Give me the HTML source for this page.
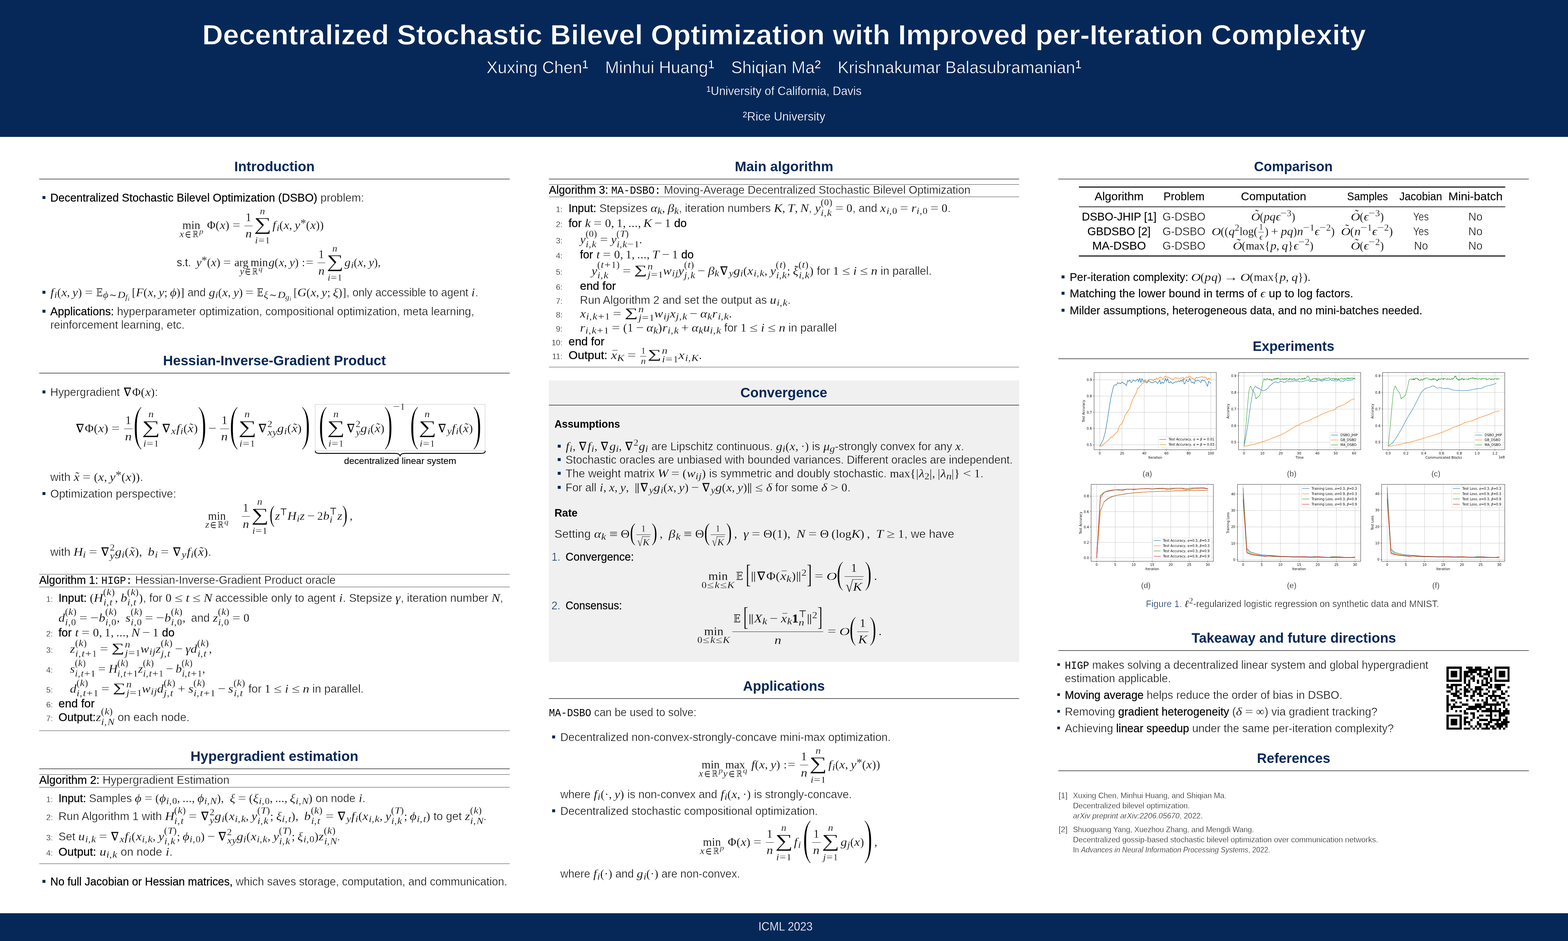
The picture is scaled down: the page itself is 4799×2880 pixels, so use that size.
<!DOCTYPE html>
<html lang="en"><head><meta charset="utf-8"><title>Decentralized Stochastic Bilevel Optimization with Improved per-Iteration Complexity</title>
<style>
html,body{margin:0;padding:0;background:#fff}
h1,h2{margin:0;padding:0;font-weight:normal;font-size:inherit}
#pg{--bg:#fff;position:relative;width:4799px;height:2880px;overflow:hidden;background:#fff;font-family:"Liberation Sans",sans-serif;color:#000}
.ab{position:absolute}
.ln{position:absolute;white-space:nowrap;transform-origin:0 0;line-height:1.2}
.t{font-size:35px;color:#0a0a0a;-webkit-text-stroke:0.65px var(--bg)}
.t b{font-weight:normal;color:#000;-webkit-text-stroke:.32px #000}
.t.bd{color:#000;-webkit-text-stroke:.15px #000}
.hd{font-weight:bold;color:#062858;font-size:43px}
.rl{position:absolute;height:0;border-top:1.6px solid #333}
.bu{position:absolute;width:9px;height:9px;background:#062858}
.tt{font-family:"Liberation Mono",monospace;font-size:.93em;-webkit-text-stroke:0;color:#000}
em{font-style:italic}
/* math */
.m{font-family:"Liberation Serif","DejaVu Math TeX Gyre","DejaVu Serif",serif;font-style:normal;font-weight:normal;color:#000;-webkit-text-stroke:.3px var(--bg);letter-spacing:0.02em;font-size:1.045em}
.m i{font-style:italic;letter-spacing:0;display:inline-block;line-height:0;transform:scaleX(1.1);margin:0 .03em}
.m b{font-weight:bold}
.dj{font-family:"DejaVu Math TeX Gyre","DejaVu Serif",serif}
.m .bb,.m .el{display:inline-block;line-height:0;transform:scaleX(.82);margin:0 -.075em}
.m .bb{font-size:.92em}
.m .cal{font-size:.95em}
.rel{display:inline-block;line-height:0;transform:scaleX(1.25);margin:0 .31em}
.rels{margin:0 .05em}
.bin{display:inline-block;line-height:0;transform:scaleX(1.2);margin:0 .25em}
.ts{display:inline-block;width:.2em}
.ms{display:inline-block;width:.22em}
.ks{display:inline-block;width:.28em}
.ns{display:inline-block;width:0;margin-left:-.17em}
.qd{display:inline-block;width:1em}
.sp,.sb{display:inline-block;line-height:0;font-size:.82em}
.sp{vertical-align:.44em}
.sb{vertical-align:-.2em}
.sp .sp,.sb .sb,.sp .sb,.sb .sp,.ss .sb,.ss .sp,.ld .sp,.ld .sb,.lu .sp{font-size:.8em}
.ss{display:inline-grid;justify-items:start;align-items:baseline;line-height:0;font-size:.82em}
.ss>span{grid-row:1;grid-column:1;position:relative}
.ss>span:first-child{top:-.53em}
.ss.hi>span:first-child{top:-.67em}
.ss.hi>span:last-child{top:.39em}
.ss>span:last-child{top:.33em}
.lm{display:inline-grid;justify-items:center;align-items:baseline;line-height:0;margin:0 .06em}
.lm>span{grid-row:1;grid-column:1;position:relative}
.lu,.ld{font-size:.8em}
.fn{letter-spacing:0}
.bigsum{display:inline-block;font-size:1.53em;letter-spacing:0;transform:translateY(.05em) scaleX(1.4);margin:0 .1em;-webkit-text-stroke:.5px var(--bg)}
.lm .lu{top:-1.55em}
.lm .ld{top:1.5em}
.lm.mn .ld{top:.85em}
.sum{display:inline-block;line-height:0;font-size:1.02em;transform:translateY(-.08em) scaleX(1.5);margin:0 .22em 0 .19em;letter-spacing:0;-webkit-text-stroke:0}
.fr{display:inline-grid;justify-items:center;align-items:baseline;line-height:0;margin:0 .1em;position:relative}
.fr>span{grid-row:1;grid-column:1;position:relative;padding:0 .08em}
.fr>.n{top:-.68em}
.fr>.d{top:.69em}
.fr::after{content:"";grid-row:1;grid-column:1;justify-self:stretch;height:0;border-top:.045em solid #000;position:relative;top:-.27em}
.fr.tf{font-size:.72em;vertical-align:.06em}
.fr.tf>.n{top:-.58em}
.fr.tf>.d{top:.62em}
.fr.tf.dq{font-size:.78em}
.fr.tf.dq>.n{top:-.62em}
.fr.tf.dq>.d{top:.85em}
.fr.dq>.d{top:.9em}
.sq{display:inline-block;line-height:0;position:relative}
.rad{display:inline-block;line-height:0;transform:translateY(.09em) scale(1.1,1.33);transform-origin:50% .3375em;letter-spacing:0;margin:0 0 0 .03em}
.ra{position:relative;display:inline-block;line-height:0;padding:0 .03em}
.ra::before{content:"";position:absolute;left:-.03em;right:0;top:-.63em;border-top:.05em solid #000}
.ac{position:relative;display:inline-block;line-height:0}
.ac .a{position:absolute;left:0;right:0;text-align:center;line-height:0;letter-spacing:0;font-style:normal}
.ac.tilde .a{top:-.06em;left:.12em}
.ac.bar .a{top:-.02em;left:.1em;transform:scaleX(.8)}
.dl{display:inline-block;line-height:0;letter-spacing:0}
.tx{font-family:"Liberation Sans",sans-serif;font-size:.957em;letter-spacing:0}
.ast{font-size:1.2em;position:relative;top:.2em;letter-spacing:0}
.dl{transform-origin:50% .11em;position:relative;top:-.03em}
.lm.mn .ld{top:.85em}
.ti{font-weight:bold;color:#fff;font-size:85.5px;-webkit-text-stroke:1.2px #062858}
.au{color:#fff;font-size:52.5px;-webkit-text-stroke:1px #062858}
.au sup,.in sup{font-size:.68em;vertical-align:.42em;line-height:0;-webkit-text-stroke:0}
.in{color:#fff;font-size:36px;-webkit-text-stroke:.5px #062858}
.ft{color:#fff;font-size:36px;-webkit-text-stroke:.5px #062858}
.nm{font-size:24.2px;-webkit-text-stroke-width:.45px}
.sp .rel,.sb .rel,.ss .rel,.lu .rel,.ld .rel,.sp .rels,.sb .rels,.ss .rels,.ld .rels{margin:0 .1em}
.sp .bin,.sb .bin,.ss .bin,.lu .bin,.ld .bin{margin:0 .09em}
.sp .ts,.sb .ts,.ss .ts,.ld .ts{width:.04em}
.g{--bg:#f0f0f0}
.sh{font-weight:bold;color:#000;-webkit-text-stroke:0;font-size:33px}
.en{color:#062858}
.cp{font-size:23.5px;-webkit-text-stroke-width:.45px}
.cap{font-size:29px}
.cap .fg{color:#062858}
.rf{font-size:24.2px;-webkit-text-stroke-width:.55px}
.fr.bf>.n{top:-1.05em}
.fr.bf>.d{top:.75em}
.dl.th{-webkit-text-stroke:.8px var(--bg)}
.nb{margin:0 -.04em 0 -.03em;font-size:.97em;-webkit-text-stroke:.25px #000}
.dl.tb{-webkit-text-stroke:.5px var(--bg)}
.ac.tall .a{top:-.2em;left:.22em;font-size:1.05em}
.un{display:inline-block;line-height:0;transform:scaleX(1.3);margin:0 .07em 0 .05em}
.m i.cal{transform:scaleX(1.22);margin:0 .06em 0 .05em}
.lm.sm{margin:0 .17em 0 .06em}
</style></head><body>
<div id="pg">
<header>
<div class="ab" style="left:0;top:0;width:4799px;height:419px;background:#062858"></div>
<h1 class="ln ti" style="left:619.0px;top:55.5px;transform:scaleX(1.0282);">Decentralized Stochastic Bilevel Optimization with Improved per-Iteration Complexity</h1>
<div class="ln au" style="left:1489.0px;top:174.0px;transform:scaleX(0.9732);">Xuxing Chen<sup>1</sup>&emsp;Minhui Huang<sup>1</sup>&emsp;Shiqian Ma<sup>2</sup>&emsp;Krishnakumar Balasubramanian<sup>1</sup></div>
<div class="ln in" style="left:2162.0px;top:257.0px;transform:scaleX(0.9819);"><sup>1</sup>University of California, Davis</div>
<div class="ln in" style="left:2273.0px;top:335.0px;transform:scaleX(0.9974);"><sup>2</sup>Rice University</div>
</header>
<main>
<section aria-label="Introduction">
<h2 class="ln hd" style="left:717.0px;top:483.5px;transform:scaleX(0.9809);">Introduction</h2>
<div class="rl" style="left:120px;top:546.5px;width:1440px;border-top-width:2px;border-color:#444"></div>
<div class="bu" style="left:130px;top:600px;width:9px;height:9px"></div>
<div class="ln t" style="left:153.8px;top:584.3px;transform:scaleX(0.9794);"><b>Decentralized Stochastic Bilevel Optimization (DSBO)</b> problem:</div>
<div class="ln t" style="left:546.7px;top:667.4px;transform:scaleX(0.9582);"><span class="m"><span class="lm mn"><span class="lb"><span class="fn">min</span></span><span class="ld"><i>x</i><span class="rels"><span class="dj el">∈</span></span><span class="dj bb">ℝ</span><span class="sp"><i>p</i></span></span></span><span class="ks"></span>Φ(<i>x</i>)<span class="rel">=</span><span class="fr"><span class="n">1</span><span class="d"><i>n</i></span></span><span class="lm sm"><span class="lu"><i>n</i></span><span class="lb"><span class="bigsum">∑</span></span><span class="ld"><i>i</i><span class="rel">=</span>1</span></span><i>f</i><span class="sb"><i>i</i></span>(<i>x</i>,<span class="ts"></span><i>y</i><span class="sp"><span class="ast">*</span></span>(<i>x</i>))</span></div>
<div class="ln t" style="left:540.9px;top:781.3px;transform:scaleX(0.9261);"><span class="m"><span class="tx lt">s.t. </span><span class="ts"></span><i>y</i><span class="sp"><span class="ast">*</span></span>(<i>x</i>)<span class="rel">=</span><span class="lm mn"><span class="lb"><span class="fn">arg<span class="ts"></span>min</span></span><span class="ld"><i>y</i><span class="rels"><span class="dj el">∈</span></span><span class="dj bb">ℝ</span><span class="sp"><i>q</i></span></span></span><i>g</i>(<i>x</i>,<span class="ts"></span><i>y</i>)<span class="ks"></span>:<span style="margin-left:-0.20em"></span><span class="rel">=</span><span class="fr"><span class="n">1</span><span class="d"><i>n</i></span></span><span class="lm sm"><span class="lu"><i>n</i></span><span class="lb"><span class="bigsum">∑</span></span><span class="ld"><i>i</i><span class="rel">=</span>1</span></span><i>g</i><span class="sb"><i>i</i></span>(<i>x</i>,<span class="ts"></span><i>y</i>),<span class="ts"></span></span></div>
<div class="bu" style="left:130px;top:889.5px;width:9px;height:9px"></div>
<div class="ln t" style="left:153.8px;top:872.5px;transform:scaleX(0.9494);"><span class="m"><i>f</i><span class="sb"><i>i</i></span>(<i>x</i>,<span class="ts"></span><i>y</i>)<span class="rel">=</span><span class="dj bb">𝔼</span><span class="sb"><i>ϕ</i><span class="rels"><span class="dj">∼</span></span><i class="cal">D</i><span class="sb"><i>f</i><span class="sb"><i>i</i></span></span></span><span class="ts"></span>[<i>F</i>(<i>x</i>,<span class="ts"></span><i>y</i>;<span class="ts"></span><i>ϕ</i>)]</span> and <span class="m"><i>g</i><span class="sb"><i>i</i></span>(<i>x</i>,<span class="ts"></span><i>y</i>)<span class="rel">=</span><span class="dj bb">𝔼</span><span class="sb"><i>ξ</i><span class="rels"><span class="dj">∼</span></span><i class="cal">D</i><span class="sb"><i>g</i><span class="sb"><i>i</i></span></span></span><span class="ts"></span>[<i>G</i>(<i>x</i>,<span class="ts"></span><i>y</i>;<span class="ts"></span><i>ξ</i>)]</span>, only accessible to agent <span class="m"><i>i</i></span>.</div>
<div class="bu" style="left:130px;top:947.8px;width:9px;height:9px"></div>
<div class="ln t" style="left:153.8px;top:931.8px;transform:scaleX(0.9806);"><b>Applications:</b> hyperparameter optimization, compositional optimization, meta learning,</div>
<div class="ln t" style="left:153.8px;top:973.2px;transform:scaleX(0.9691);">reinforcement learning, etc.</div>
</section>
<section aria-label="Hessian-Inverse-Gradient Product">
<h2 class="ln hd" style="left:499.0px;top:1077.6px;transform:scaleX(0.9808);">Hessian-Inverse-Gradient Product</h2>
<div class="rl" style="left:120px;top:1140.6px;width:1440px;border-top-width:2px;border-color:#444"></div>
<div class="bu" style="left:130px;top:1194.5px;width:9px;height:9px"></div>
<div class="ln t" style="left:153.8px;top:1177.5px;transform:scaleX(0.9675);">Hypergradient <span class="m"><span class="dj nb">∇</span>Φ(<i>x</i>)</span>:</div>
<div class="ln t" style="left:229.7px;top:1288.7px;transform:scaleX(1.0040);"><span class="m"><span class="dj nb">∇</span>Φ(<i>x</i>)<span class="rel">=</span><span class="fr"><span class="n">1</span><span class="d"><i>n</i></span></span><span class="dl th" style="transform:scale(2.302,4.100);margin:0 0.170em">(</span><span class="lm sm"><span class="lu"><i>n</i></span><span class="lb"><span class="bigsum">∑</span></span><span class="ld"><i>i</i><span class="rel">=</span>1</span></span><span class="dj nb">∇</span><span class="sb"><i>x</i></span><i>f</i><span class="sb"><i>i</i></span>(<span class="ac tilde"><i>x</i><span class="a">˜</span></span>)<span class="dl th" style="transform:scale(2.302,4.100);margin:0 0.170em">)</span><span class="bin">−</span><span class="fr"><span class="n">1</span><span class="d"><i>n</i></span></span><span class="dl th" style="transform:scale(2.302,4.100);margin:0 0.170em">(</span><span class="lm sm"><span class="lu"><i>n</i></span><span class="lb"><span class="bigsum">∑</span></span><span class="ld"><i>i</i><span class="rel">=</span>1</span></span><span class="dj nb">∇</span><span class="ss"><span>2</span><span><i>x</i><i>y</i></span></span><i>g</i><span class="sb"><i>i</i></span>(<span class="ac tilde"><i>x</i><span class="a">˜</span></span>)<span class="dl th" style="transform:scale(2.302,4.100);margin:0 0.170em">)</span></span></div>
<div class="ab" style="left:964px;top:1237px;width:521px;height:143px;border:1px solid #bbb;box-sizing:border-box"></div>
<div class="ln t" style="left:977.0px;top:1243.7px;transform:scaleX(0.9798);"><span class="m"><span class="dl th" style="transform:scale(2.302,4.100);margin:0 0.170em">(</span><span class="lm sm"><span class="lu"><i>n</i></span><span class="lb"><span class="bigsum">∑</span></span><span class="ld"><i>i</i><span class="rel">=</span>1</span></span><span class="dj nb">∇</span><span class="ss"><span>2</span><span><i>y</i></span></span><i>g</i><span class="sb"><i>i</i></span>(<span class="ac tilde"><i>x</i><span class="a">˜</span></span>)<span class="dl th" style="transform:scale(2.302,4.100);margin:0 0.170em">)</span><span style="display:inline-block;width:0.08em"></span><span class="sp" style="vertical-align:2.3em"><span class="un">−</span>1</span><span style="display:inline-block;width:0.45em"></span><span class="dl th" style="transform:scale(2.302,4.100);margin:0 0.170em">(</span><span class="lm sm"><span class="lu"><i>n</i></span><span class="lb"><span class="bigsum">∑</span></span><span class="ld"><i>i</i><span class="rel">=</span>1</span></span><span class="dj nb">∇</span><span class="sb"><i>y</i></span><i>f</i><span class="sb"><i>i</i></span>(<span class="ac tilde"><i>x</i><span class="a">˜</span></span>)<span class="dl th" style="transform:scale(2.302,4.100);margin:0 0.170em">)</span></span></div>
<svg class="ab" style="left:964px;top:1379px" width="522" height="20" viewBox="0 0 522 20"><path d="M0.5 0.5 C1 7 5 8.6 14 8.6 L245 8.6 C254 8.6 259 10.5 260.5 17 C262 10.5 267 8.6 276 8.6 L508 8.6 C517 8.6 521 7 521.5 0.5" fill="none" stroke="#000" stroke-width="2.6" stroke-linejoin="round"/></svg>
<div class="ln t bd" style="left:1052.7px;top:1394.4px;transform:scaleX(1.0273);font-size:27.6px;">decentralized linear system</div>
<div class="ln t" style="left:153.8px;top:1438.2px;transform:scaleX(0.9928);">with <span class="m"><span class="ac tilde"><i>x</i><span class="a">˜</span></span><span class="rel">=</span>(<i>x</i>,<span class="ts"></span><i>y</i><span class="sp"><span class="ast">*</span></span>(<i>x</i>))</span>.</div>
<div class="bu" style="left:130px;top:1505.7px;width:9px;height:9px"></div>
<div class="ln t" style="left:153.8px;top:1489.7px;transform:scaleX(0.9803);">Optimization perspective:</div>
<div class="ln t" style="left:626.3px;top:1556.6px;transform:scaleX(0.9578);"><span class="m"><span class="lm mn"><span class="lb"><span class="fn">min</span></span><span class="ld"><i>z</i><span class="rels"><span class="dj el">∈</span></span><span class="dj bb">ℝ</span><span class="sp"><i>q</i></span></span></span><span class="qd"></span><span class="fr"><span class="n">1</span><span class="d"><i>n</i></span></span><span class="lm sm"><span class="lu"><i>n</i></span><span class="lb"><span class="bigsum">∑</span></span><span class="ld"><i>i</i><span class="rel">=</span>1</span></span><span class="dl tb" style="transform:scale(1.420,2.000);margin:0 0.055em">(</span><i>z</i><span class="sp"><span class="dj">⊤</span></span><i>H</i><span class="sb"><i>i</i></span><i>z</i><span class="bin">−</span>2<i>b</i><span class="ss"><span><span class="dj">⊤</span></span><span><i>i</i></span></span><i>z</i><span class="dl tb" style="transform:scale(1.420,2.000);margin:0 0.055em">)</span><span class="ts"></span>,<span class="ts"></span></span></div>
<div class="ln t" style="left:153.8px;top:1667.2px;transform:scaleX(0.9890);">with <span class="m"><i>H</i><span class="sb"><i>i</i></span><span class="rel">=</span><span class="dj nb">∇</span><span class="ss"><span>2</span><span><i>y</i></span></span><i>g</i><span class="sb"><i>i</i></span>(<span class="ac tilde"><i>x</i><span class="a">˜</span></span>),<span class="ts"></span><span class="ks"></span><i>b</i><span class="sb"><i>i</i></span><span class="rel">=</span><span class="dj nb">∇</span><span class="sb"><i>y</i></span><i>f</i><span class="sb"><i>i</i></span>(<span class="ac tilde"><i>x</i><span class="a">˜</span></span>)</span>.</div>
<div class="rl" style="left:120px;top:1756.5px;width:1440px;border-top-width:1.4px;border-color:#222"></div>
<div class="ln t" style="left:120.3px;top:1753.6px;transform:scaleX(0.9670);"><b>Algorithm 1:</b> <span class="tt">HIGP:</span> Hessian-Inverse-Gradient Product oracle</div>
<div class="rl" style="left:120px;top:1796.2px;width:1440px;border-top-width:1.4px;border-color:#222"></div>
<div class="ln t nm" style="left:141.5px;top:1818.6px;">1:</div>
<div class="ln t" style="left:179.3px;top:1807.6px;transform:scaleX(0.9855);"><b>Input:</b> <span class="m">(<i>H</i><span class="ss hi"><span>(<i>k</i>)</span><span><i>i</i>,<span class="ts"></span><i>t</i></span></span>,<span class="ts"></span><i>b</i><span class="ss hi"><span>(<i>k</i>)</span><span><i>i</i>,<span class="ts"></span><i>t</i></span></span>)</span>, for <span class="m">0<span class="rel">≤</span><i>t</i><span class="rel">≤</span><i>N</i></span> accessible only to agent <span class="m"><i>i</i></span>. Stepsize <span class="m"><i>γ</i></span>, iteration number <span class="m"><i>N</i></span>,</div>
<div class="ln t" style="left:179.3px;top:1868.5px;transform:scaleX(0.9714);"><span class="m"><i>d</i><span class="ss hi"><span>(<i>k</i>)</span><span><i>i</i>,<span class="ts"></span>0</span></span><span class="rel">=</span><span class="un">−</span><i>b</i><span class="ss hi"><span>(<i>k</i>)</span><span><i>i</i>,<span class="ts"></span>0</span></span>,<span class="ts"></span><span class="ks"></span><i>s</i><span class="ss hi"><span>(<i>k</i>)</span><span><i>i</i>,<span class="ts"></span>0</span></span><span class="rel">=</span><span class="un">−</span><i>b</i><span class="ss hi"><span>(<i>k</i>)</span><span><i>i</i>,<span class="ts"></span>0</span></span>,<span class="ts"></span></span> and <span class="m"><i>z</i><span class="ss hi"><span>(<i>k</i>)</span><span><i>i</i>,<span class="ts"></span>0</span></span><span class="rel">=</span>0</span></div>
<div class="ln t nm" style="left:141.5px;top:1925.4px;">2:</div>
<div class="ln t" style="left:179.3px;top:1914.4px;transform:scaleX(0.9861);"><b>for</b> <span class="m"><i>t</i><span class="rel">=</span>0,<span class="ts"></span>1,<span class="ts"></span>...,<span class="ts"></span><i>N</i><span class="bin">−</span>1</span> <b>do</b></div>
<div class="ln t nm" style="left:141.5px;top:1975.2px;">3:</div>
<div class="ln t" style="left:214.4px;top:1964.2px;transform:scaleX(0.9819);"><span class="m"><i>z</i><span class="ss hi"><span>(<i>k</i>)</span><span><i>i</i>,<span class="ts"></span><i>t</i><span class="bin">+</span>1</span></span><span class="rel">=</span><span class="sum">∑</span><span class="ss"><span><i>n</i></span><span><i>j</i><span class="rel">=</span>1</span></span><i>w</i><span class="sb"><i>i</i><i>j</i></span><i>z</i><span class="ss hi"><span>(<i>k</i>)</span><span><i>j</i>,<span class="ts"></span><i>t</i></span></span><span class="bin">−</span><i>γ</i><i>d</i><span class="ss hi"><span>(<i>k</i>)</span><span><i>i</i>,<span class="ts"></span><i>t</i></span></span>,<span class="ts"></span></span></div>
<div class="ln t nm" style="left:141.5px;top:2036.0px;">4:</div>
<div class="ln t" style="left:214.4px;top:2025.0px;transform:scaleX(0.9222);"><span class="m"><i>s</i><span class="ss hi"><span>(<i>k</i>)</span><span><i>i</i>,<span class="ts"></span><i>t</i><span class="bin">+</span>1</span></span><span class="rel">=</span><i>H</i><span class="ss hi"><span>(<i>k</i>)</span><span><i>i</i>,<span class="ts"></span><i>t</i><span class="bin">+</span>1</span></span><i>z</i><span class="ss hi"><span>(<i>k</i>)</span><span><i>i</i>,<span class="ts"></span><i>t</i><span class="bin">+</span>1</span></span><span class="bin">−</span><i>b</i><span class="ss hi"><span>(<i>k</i>)</span><span><i>i</i>,<span class="ts"></span><i>t</i><span class="bin">+</span>1</span></span>,<span class="ts"></span></span></div>
<div class="ln t nm" style="left:141.5px;top:2096.8px;">5:</div>
<div class="ln t" style="left:214.4px;top:2085.8px;transform:scaleX(0.9842);"><span class="m"><i>d</i><span class="ss hi"><span>(<i>k</i>)</span><span><i>i</i>,<span class="ts"></span><i>t</i><span class="bin">+</span>1</span></span><span class="rel">=</span><span class="sum">∑</span><span class="ss"><span><i>n</i></span><span><i>j</i><span class="rel">=</span>1</span></span><i>w</i><span class="sb"><i>i</i><i>j</i></span><i>d</i><span class="ss hi"><span>(<i>k</i>)</span><span><i>j</i>,<span class="ts"></span><i>t</i></span></span><span class="bin">+</span><i>s</i><span class="ss hi"><span>(<i>k</i>)</span><span><i>i</i>,<span class="ts"></span><i>t</i><span class="bin">+</span>1</span></span><span class="bin">−</span><i>s</i><span class="ss hi"><span>(<i>k</i>)</span><span><i>i</i>,<span class="ts"></span><i>t</i></span></span></span> for <span class="m">1<span class="rel">≤</span><i>i</i><span class="rel">≤</span><i>n</i></span> in parallel.</div>
<div class="ln t nm" style="left:141.5px;top:2142.1px;">6:</div>
<div class="ln t" style="left:179.3px;top:2132.1px;transform:scaleX(1.0150);"><b>end for</b></div>
<div class="ln t nm" style="left:141.5px;top:2184.2px;">7:</div>
<div class="ln t" style="left:179.3px;top:2173.2px;transform:scaleX(0.9925);"><b>Output:</b><span class="m"><i>z</i><span class="ss hi"><span>(<i>k</i>)</span><span><i>i</i>,<span class="ts"></span><i>N</i></span></span></span> on each node.</div>
<div class="rl" style="left:120px;top:2236.2px;width:1440px;border-top-width:1.4px;border-color:#222"></div>
</section>
<section aria-label="Hypergradient estimation">
<h2 class="ln hd" style="left:583.0px;top:2289.3px;transform:scaleX(0.9907);">Hypergradient estimation</h2>
<div class="rl" style="left:120px;top:2352.3px;width:1440px;border-top-width:2px;border-color:#444"></div>
<div class="rl" style="left:120px;top:2369.9px;width:1440px;border-top-width:1.4px;border-color:#222"></div>
<div class="ln t" style="left:120.3px;top:2366.2px;transform:scaleX(0.9879);"><b>Algorithm 2:</b> Hypergradient Estimation</div>
<div class="rl" style="left:120px;top:2409.4px;width:1440px;border-top-width:1.4px;border-color:#222"></div>
<div class="ln t nm" style="left:141.5px;top:2431.8px;">1:</div>
<div class="ln t" style="left:179.3px;top:2420.8px;transform:scaleX(0.9619);"><b>Input:</b> Samples <span class="m"><i>ϕ</i><span class="rel">=</span>(<i>ϕ</i><span class="sb"><i>i</i>,<span class="ts"></span>0</span>,<span class="ts"></span>...,<span class="ts"></span><i>ϕ</i><span class="sb"><i>i</i>,<span class="ts"></span><i>N</i></span>),<span class="ts"></span><span class="ks"></span><i>ξ</i><span class="rel">=</span>(<i>ξ</i><span class="sb"><i>i</i>,<span class="ts"></span>0</span>,<span class="ts"></span>...,<span class="ts"></span><i>ξ</i><span class="sb"><i>i</i>,<span class="ts"></span><i>N</i></span>)</span> on node <span class="m"><i>i</i></span>.</div>
<div class="ln t nm" style="left:141.5px;top:2487.4px;">2:</div>
<div class="ln t" style="left:179.3px;top:2476.4px;transform:scaleX(0.9855);">Run Algorithm 1 with <span class="m"><i>H</i><span class="ss hi"><span>(<i>k</i>)</span><span><i>i</i>,<span class="ts"></span><i>t</i></span></span><span class="rel">=</span><span class="dj nb">∇</span><span class="ss"><span>2</span><span><i>y</i></span></span><i>g</i><span class="sb"><i>i</i></span>(<i>x</i><span class="sb"><i>i</i>,<span class="ts"></span><i>k</i></span>,<span class="ts"></span><i>y</i><span class="ss hi"><span>(<i>T</i>)</span><span><i>i</i>,<span class="ts"></span><i>k</i></span></span>;<span class="ts"></span><i>ξ</i><span class="sb"><i>i</i>,<span class="ts"></span><i>t</i></span>),<span class="ts"></span><span class="ks"></span><i>b</i><span class="ss hi"><span>(<i>k</i>)</span><span><i>i</i>,<span class="ts"></span><i>t</i></span></span><span class="rel">=</span><span class="dj nb">∇</span><span class="sb"><i>y</i></span><i>f</i><span class="sb"><i>i</i></span>(<i>x</i><span class="sb"><i>i</i>,<span class="ts"></span><i>k</i></span>,<span class="ts"></span><i>y</i><span class="ss hi"><span>(<i>T</i>)</span><span><i>i</i>,<span class="ts"></span><i>k</i></span></span>;<span class="ts"></span><i>ϕ</i><span class="sb"><i>i</i>,<span class="ts"></span><i>t</i></span>)</span> to get <span class="m"><i>z</i><span class="ss hi"><span>(<i>k</i>)</span><span><i>i</i>,<span class="ts"></span><i>N</i></span></span></span>.</div>
<div class="ln t nm" style="left:141.5px;top:2548.9px;">3:</div>
<div class="ln t" style="left:179.3px;top:2537.9px;transform:scaleX(0.9791);">Set <span class="m"><i>u</i><span class="sb"><i>i</i>,<span class="ts"></span><i>k</i></span><span class="rel">=</span><span class="dj nb">∇</span><span class="sb"><i>x</i></span><i>f</i><span class="sb"><i>i</i></span>(<i>x</i><span class="sb"><i>i</i>,<span class="ts"></span><i>k</i></span>,<span class="ts"></span><i>y</i><span class="ss hi"><span>(<i>T</i>)</span><span><i>i</i>,<span class="ts"></span><i>k</i></span></span>;<span class="ts"></span><i>ϕ</i><span class="sb"><i>i</i>,<span class="ts"></span>0</span>)<span class="bin">−</span><span class="dj nb">∇</span><span class="ss"><span>2</span><span><i>x</i><i>y</i></span></span><i>g</i><span class="sb"><i>i</i></span>(<i>x</i><span class="sb"><i>i</i>,<span class="ts"></span><i>k</i></span>,<span class="ts"></span><i>y</i><span class="ss hi"><span>(<i>T</i>)</span><span><i>i</i>,<span class="ts"></span><i>k</i></span></span>;<span class="ts"></span><i>ξ</i><span class="sb"><i>i</i>,<span class="ts"></span>0</span>)<i>z</i><span class="ss hi"><span>(<i>k</i>)</span><span><i>i</i>,<span class="ts"></span><i>N</i></span></span></span>.</div>
<div class="ln t nm" style="left:141.5px;top:2596.1px;">4:</div>
<div class="ln t" style="left:179.3px;top:2585.1px;transform:scaleX(1.0046);"><b>Output:</b> <span class="m"><i>u</i><span class="sb"><i>i</i>,<span class="ts"></span><i>k</i></span></span> on node <span class="m"><i>i</i></span>.</div>
<div class="rl" style="left:120px;top:2643px;width:1440px;border-top-width:1.4px;border-color:#222"></div>
<div class="bu" style="left:130px;top:2693.4px;width:9px;height:9px"></div>
<div class="ln t" style="left:153.8px;top:2677.4px;transform:scaleX(0.9662);"><b>No full Jacobian or Hessian matrices,</b> which saves storage, computation, and communication.</div>
</section>
<section aria-label="Main algorithm">
<h2 class="ln hd" style="left:2249.0px;top:483.5px;transform:scaleX(0.9856);">Main algorithm</h2>
<div class="rl" style="left:1680px;top:546.5px;width:1439px;border-top-width:2px;border-color:#444"></div>
<div class="rl" style="left:1680px;top:563.5px;width:1439px;border-top-width:1.4px;border-color:#222"></div>
<div class="ln t" style="left:1680.2px;top:559.7px;transform:scaleX(0.9710);"><b>Algorithm 3:</b> <span class="tt">MA-DSBO:</span> Moving-Average Decentralized Stochastic Bilevel Optimization</div>
<div class="rl" style="left:1680px;top:602.4px;width:1439px;border-top-width:1.4px;border-color:#222"></div>
<div class="ln t nm" style="left:1701.4px;top:626.0px;">1:</div>
<div class="ln t" style="left:1739.7px;top:615.0px;transform:scaleX(0.9704);"><b>Input:</b> Stepsizes <span class="m"><i>α</i><span class="sb"><i>k</i></span>,<span class="ts"></span><i>β</i><span class="sb"><i>k</i></span></span>, iteration numbers <span class="m"><i>K</i>,<span class="ts"></span><i>T</i>,<span class="ts"></span><i>N</i></span>, <span class="m"><i>y</i><span class="ss hi"><span>(0)</span><span><i>i</i>,<span class="ts"></span><i>k</i></span></span><span class="rel">=</span>0</span>, and <span class="m"><i>x</i><span class="sb"><i>i</i>,<span class="ts"></span>0</span><span class="rel">=</span><i>r</i><span class="sb"><i>i</i>,<span class="ts"></span>0</span><span class="rel">=</span>0</span>.</div>
<div class="ln t nm" style="left:1701.4px;top:672.0px;">2:</div>
<div class="ln t" style="left:1739.7px;top:661.0px;transform:scaleX(0.9878);"><b>for</b> <span class="m"><i>k</i><span class="rel">=</span>0,<span class="ts"></span>1,<span class="ts"></span>...,<span class="ts"></span><i>K</i><span class="bin">−</span>1</span> <b>do</b></div>
<div class="ln t nm" style="left:1701.4px;top:722.4px;">3:</div>
<div class="ln t" style="left:1774.7px;top:711.4px;transform:scaleX(0.9478);"><span class="m"><i>y</i><span class="ss hi"><span>(0)</span><span><i>i</i>,<span class="ts"></span><i>k</i></span></span><span class="rel">=</span><i>y</i><span class="ss hi"><span>(<i>T</i>)</span><span><i>i</i>,<span class="ts"></span><i>k</i><span class="bin">−</span>1</span></span>.</span></div>
<div class="ln t nm" style="left:1701.4px;top:768.4px;">4:</div>
<div class="ln t" style="left:1774.7px;top:757.4px;transform:scaleX(0.9777);"><b>for</b> <span class="m"><i>t</i><span class="rel">=</span>0,<span class="ts"></span>1,<span class="ts"></span>...,<span class="ts"></span><i>T</i><span class="bin">−</span>1</span> <b>do</b></div>
<div class="ln t nm" style="left:1701.4px;top:817.5px;">5:</div>
<div class="ln t" style="left:1810.3px;top:806.5px;transform:scaleX(0.9802);"><span class="m"><i>y</i><span class="ss hi"><span>(<i>t</i><span class="bin">+</span>1)</span><span><i>i</i>,<span class="ts"></span><i>k</i></span></span><span class="rel">=</span><span class="sum">∑</span><span class="ss"><span><i>n</i></span><span><i>j</i><span class="rel">=</span>1</span></span><i>w</i><span class="sb"><i>i</i><i>j</i></span><i>y</i><span class="ss hi"><span>(<i>t</i>)</span><span><i>j</i>,<span class="ts"></span><i>k</i></span></span><span class="bin">−</span><i>β</i><span class="sb"><i>k</i></span><span class="dj nb">∇</span><span class="sb"><i>y</i></span><i>g</i><span class="sb"><i>i</i></span>(<i>x</i><span class="sb"><i>i</i>,<span class="ts"></span><i>k</i></span>,<span class="ts"></span><i>y</i><span class="ss hi"><span>(<i>t</i>)</span><span><i>i</i>,<span class="ts"></span><i>k</i></span></span>;<span class="ts"></span><span class="ac tilde"><i>ξ</i><span class="a">˜</span></span><span class="ss hi"><span>(<i>t</i>)</span><span><i>i</i>,<span class="ts"></span><i>k</i></span></span>)</span> for <span class="m">1<span class="rel">≤</span><i>i</i><span class="rel">≤</span><i>n</i></span> in parallel.</div>
<div class="ln t nm" style="left:1701.4px;top:864.1px;">6:</div>
<div class="ln t" style="left:1774.7px;top:854.1px;transform:scaleX(1.0095);"><b>end for</b></div>
<div class="ln t nm" style="left:1701.4px;top:906.8px;">7:</div>
<div class="ln t" style="left:1774.7px;top:895.8px;transform:scaleX(0.9769);">Run Algorithm 2 and set the output as <span class="m"><i>u</i><span class="sb"><i>i</i>,<span class="ts"></span><i>k</i></span></span>.</div>
<div class="ln t nm" style="left:1701.4px;top:948.9px;">8:</div>
<div class="ln t" style="left:1774.7px;top:937.9px;transform:scaleX(1.0035);"><span class="m"><i>x</i><span class="sb"><i>i</i>,<span class="ts"></span><i>k</i><span class="bin">+</span>1</span><span class="rel">=</span><span class="sum">∑</span><span class="ss"><span><i>n</i></span><span><i>j</i><span class="rel">=</span>1</span></span><i>w</i><span class="sb"><i>i</i><i>j</i></span><i>x</i><span class="sb"><i>j</i>,<span class="ts"></span><i>k</i></span><span class="bin">−</span><i>α</i><span class="sb"><i>k</i></span><i>r</i><span class="sb"><i>i</i>,<span class="ts"></span><i>k</i></span>.</span></div>
<div class="ln t nm" style="left:1701.4px;top:992.2px;">9:</div>
<div class="ln t" style="left:1774.7px;top:981.2px;transform:scaleX(0.9879);"><span class="m"><i>r</i><span class="sb"><i>i</i>,<span class="ts"></span><i>k</i><span class="bin">+</span>1</span><span class="rel">=</span>(1<span class="bin">−</span><i>α</i><span class="sb"><i>k</i></span>)<i>r</i><span class="sb"><i>i</i>,<span class="ts"></span><i>k</i></span><span class="bin">+</span><i>α</i><span class="sb"><i>k</i></span><i>u</i><span class="sb"><i>i</i>,<span class="ts"></span><i>k</i></span></span> for <span class="m">1<span class="rel">≤</span><i>i</i><span class="rel">≤</span><i>n</i></span> in parallel</div>
<div class="ln t nm" style="left:1688.0px;top:1034.3px;">10:</div>
<div class="ln t" style="left:1739.7px;top:1024.3px;transform:scaleX(1.0095);"><b>end for</b></div>
<div class="ln t nm" style="left:1689.8px;top:1076.3px;">11:</div>
<div class="ln t" style="left:1739.7px;top:1065.3px;transform:scaleX(1.0381);"><b>Output:</b> <span class="m"><span class="ac bar"><i>x</i><span class="a">¯</span></span><span class="sb"><i>K</i></span><span class="rel">=</span><span class="fr tf"><span class="n">1</span><span class="d"><i>n</i></span></span><span class="sum">∑</span><span class="ss"><span><i>n</i></span><span><i>i</i><span class="rel">=</span>1</span></span><i>x</i><span class="sb"><i>i</i>,<span class="ts"></span><i>K</i></span>.</span></div>
<div class="rl" style="left:1680px;top:1123.2px;width:1439px;border-top-width:1.4px;border-color:#222"></div>
</section>
<section aria-label="Convergence">
<div class="ab" style="left:1680px;top:1164px;width:1439px;height:862px;background:#f0f0f0"></div>
<h2 class="ln hd" style="left:2266.4px;top:1175.8px;transform:scaleX(0.9760);">Convergence</h2>
<div class="rl" style="left:1680px;top:1238.8px;width:1439px;border-top-width:2px;border-color:#444"></div>
<div class="ln t sh" style="left:1697.0px;top:1277.9px;transform:scaleX(0.9597);">Assumptions</div>
<div class="bu" style="left:1707px;top:1360.5px;width:9px;height:9px"></div>
<div class="ln t g" style="left:1731.3px;top:1343.5px;transform:scaleX(0.9655);"><span class="m"><i>f</i><span class="sb"><i>i</i></span>,<span class="ts"></span><span class="dj nb">∇</span><i>f</i><span class="sb"><i>i</i></span>,<span class="ts"></span><span class="dj nb">∇</span><i>g</i><span class="sb"><i>i</i></span>,<span class="ts"></span><span class="dj nb">∇</span><span class="sp">2</span><i>g</i><span class="sb"><i>i</i></span></span> are Lipschitz continuous. <span class="m"><i>g</i><span class="sb"><i>i</i></span>(<i>x</i>,<span class="ts"></span>·)</span> is <span class="m"><i>μ</i><span class="sb"><i>g</i></span></span>-strongly convex for any <span class="m"><i>x</i></span>.</div>
<div class="bu" style="left:1707px;top:1401.9px;width:9px;height:9px"></div>
<div class="ln t g" style="left:1731.3px;top:1385.9px;transform:scaleX(0.9639);">Stochastic oracles are unbiased with bounded variances. Different oracles are independent.</div>
<div class="bu" style="left:1707px;top:1444px;width:9px;height:9px"></div>
<div class="ln t g" style="left:1731.3px;top:1427.0px;transform:scaleX(0.9873);">The weight matrix <span class="m"><i>W</i><span class="rel">=</span>(<i>w</i><span class="sb"><i>i</i><i>j</i></span>)</span> is symmetric and doubly stochastic. <span class="m"><span class="fn">max</span>{|<i>λ</i><span class="sb">2</span>|,<span class="ts"></span>|<i>λ</i><span class="sb"><i>n</i></span>|}<span class="rel">&lt;</span>1</span>.</div>
<div class="bu" style="left:1707px;top:1486.7px;width:9px;height:9px"></div>
<div class="ln t g" style="left:1731.3px;top:1469.7px;transform:scaleX(0.9699);">For all <span class="m"><i>i</i>,<span class="ts"></span><i>x</i>,<span class="ts"></span><i>y</i>,<span class="ts"></span><span class="ks"></span><span class="dj">‖</span><span class="dj nb">∇</span><span class="sb"><i>y</i></span><i>g</i><span class="sb"><i>i</i></span>(<i>x</i>,<span class="ts"></span><i>y</i>)<span class="bin">−</span><span class="dj nb">∇</span><span class="sb"><i>y</i></span><i>g</i>(<i>x</i>,<span class="ts"></span><i>y</i>)<span class="dj">‖</span><span class="rel">≤</span><i>δ</i></span> for some <span class="m"><i>δ</i><span class="rel">&gt;</span>0</span>.</div>
<div class="ln t sh" style="left:1697.0px;top:1550.3px;transform:scaleX(0.9870);">Rate</div>
<div class="ln t g" style="left:1697.0px;top:1612.0px;transform:scaleX(1.0189);">Setting <span class="m"><i>α</i><span class="sb"><i>k</i></span><span class="rel">≡</span>Θ<span class="dl tb" style="transform:scale(1.462,2.100);margin:0 0.060em">(</span><span class="fr tf dq"><span class="n">1</span><span class="d"><span class="sq"><span class="rad">√</span><span class="ra"><i>K</i></span></span></span></span><span class="dl tb" style="transform:scale(1.462,2.100);margin:0 0.060em">)</span><span class="ts"></span>,<span class="ts"></span><span class="ks"></span><i>β</i><span class="sb"><i>k</i></span><span class="rel">≡</span>Θ<span class="dl tb" style="transform:scale(1.462,2.100);margin:0 0.060em">(</span><span class="fr tf dq"><span class="n">1</span><span class="d"><span class="sq"><span class="rad">√</span><span class="ra"><i>K</i></span></span></span></span><span class="dl tb" style="transform:scale(1.462,2.100);margin:0 0.060em">)</span><span class="ts"></span>,<span class="ts"></span><span class="ks"></span><i>γ</i><span class="rel">=</span>Θ(1),<span class="ts"></span><span class="ks"></span><i>N</i><span class="rel">=</span>Θ<span class="ts"></span>(<span class="fn">log</span><i>K</i>)<span class="ts"></span>,<span class="ts"></span><span class="ks"></span><i>T</i><span class="rel">≥</span>1</span>, we have</div>
<div class="ln t g en" style="left:1688.0px;top:1682.9px;transform:scaleX(0.9246);">1.</div>
<div class="ln t g" style="left:1731.3px;top:1682.9px;transform:scaleX(0.9591);"><b>Convergence:</b></div>
<div class="ln t g" style="left:2145.4px;top:1740.7px;transform:scaleX(1.0467);"><span class="m"><span class="lm mn"><span class="lb"><span class="fn">min</span></span><span class="ld">0<span class="rel">≤</span><i>k</i><span class="rel">≤</span><i>K</i></span></span><span class="dj bb">𝔼</span><span class="ts"></span><span class="dl tb" style="transform:scale(1.300,2.200);margin:0 0.032em">[</span><span class="dj">‖</span><span class="dj nb">∇</span>Φ(<span class="ac bar"><i>x</i><span class="a">¯</span></span><span class="sb"><i>k</i></span>)<span class="dj">‖</span><span class="sp">2</span><span class="dl tb" style="transform:scale(1.300,2.200);margin:0 0.032em">]</span><span class="rel">=</span><i class="cal">O</i><span class="dl th" style="transform:scale(1.756,2.800);margin:0 0.099em">(</span><span class="fr dq"><span class="n">1</span><span class="d"><span class="sq"><span class="rad">√</span><span class="ra"><i>K</i></span></span></span></span><span class="dl th" style="transform:scale(1.756,2.800);margin:0 0.099em">)</span><span class="ts"></span>.</span></div>
<div class="ln t g en" style="left:1688.0px;top:1832.3px;transform:scaleX(0.9246);">2.</div>
<div class="ln t g" style="left:1731.3px;top:1832.3px;transform:scaleX(0.9344);"><b>Consensus:</b></div>
<div class="ln t g" style="left:2131.8px;top:1909.6px;transform:scaleX(1.0396);"><span class="m"><span class="lm mn"><span class="lb"><span class="fn">min</span></span><span class="ld">0<span class="rel">≤</span><i>k</i><span class="rel">≤</span><i>K</i></span></span><span class="fr bf"><span class="n"><span class="dj bb">𝔼</span><span class="ts"></span><span class="dl tb" style="transform:scale(1.300,2.200);margin:0 0.032em">[</span><span class="dj">‖</span><i>X</i><span class="sb"><i>k</i></span><span class="bin">−</span><span class="ac bar"><i>x</i><span class="a">¯</span></span><span class="sb"><i>k</i></span><b>1</b><span class="ss"><span><span class="dj">⊤</span></span><span><i>n</i></span></span><span class="dj">‖</span><span class="sp">2</span><span class="dl tb" style="transform:scale(1.300,2.200);margin:0 0.032em">]</span></span><span class="d"><i>n</i></span></span><span class="rel">=</span><i class="cal">O</i><span class="dl th" style="transform:scale(1.756,2.800);margin:0 0.099em">(</span><span class="fr"><span class="n">1</span><span class="d"><i>K</i></span></span><span class="dl th" style="transform:scale(1.756,2.800);margin:0 0.099em">)</span><span class="ts"></span>.</span></div>
</section>
<section aria-label="Applications">
<h2 class="ln hd" style="left:2274.2px;top:2073.8px;transform:scaleX(0.9704);">Applications</h2>
<div class="rl" style="left:1680px;top:2136.8px;width:1439px;border-top-width:2px;border-color:#444"></div>
<div class="ln t" style="left:1680.2px;top:2158.5px;transform:scaleX(0.9463);"><span class="tt">MA-DSBO</span> can be used to solve:</div>
<div class="bu" style="left:1689.5px;top:2251.4px;width:9px;height:9px"></div>
<div class="ln t" style="left:1714.5px;top:2235.4px;transform:scaleX(0.9735);">Decentralized non-convex-strongly-concave mini-max optimization.</div>
<div class="ln t" style="left:2136.4px;top:2317.9px;transform:scaleX(0.9701);"><span class="m"><span class="lm mn"><span class="lb"><span class="fn">min</span></span><span class="ld"><i>x</i><span class="rels"><span class="dj el">∈</span></span><span class="dj bb">ℝ</span><span class="sp"><i>p</i></span></span></span><span style="margin-left:-0.08em"></span><span class="lm mn"><span class="lb"><span class="fn">max</span></span><span class="ld"><i>y</i><span class="rels"><span class="dj el">∈</span></span><span class="dj bb">ℝ</span><span class="sp"><i>q</i></span></span></span><span class="ks"></span><i>f</i>(<i>x</i>,<span class="ts"></span><i>y</i>)<span class="ks"></span>:<span style="margin-left:-0.20em"></span><span class="rel">=</span><span class="fr"><span class="n">1</span><span class="d"><i>n</i></span></span><span class="lm sm"><span class="lu"><i>n</i></span><span class="lb"><span class="bigsum">∑</span></span><span class="ld"><i>i</i><span class="rel">=</span>1</span></span><i>f</i><span class="sb"><i>i</i></span>(<i>x</i>,<span class="ts"></span><i>y</i><span class="sp"><span class="ast">*</span></span>(<i>x</i>))</span></div>
<div class="ln t" style="left:1714.5px;top:2408.5px;transform:scaleX(0.9684);">where <span class="m"><i>f</i><span class="sb"><i>i</i></span>(·,<span class="ts"></span><i>y</i>)</span> is non-convex and <span class="m"><i>f</i><span class="sb"><i>i</i></span>(<i>x</i>,<span class="ts"></span>·)</span> is strongly-concave.</div>
<div class="bu" style="left:1689.5px;top:2476.6px;width:9px;height:9px"></div>
<div class="ln t" style="left:1714.5px;top:2460.6px;transform:scaleX(0.9738);">Decentralized stochastic compositional optimization.</div>
<div class="ln t" style="left:2139.6px;top:2554.7px;transform:scaleX(0.9681);"><span class="m"><span class="lm mn"><span class="lb"><span class="fn">min</span></span><span class="ld"><i>x</i><span class="rels"><span class="dj el">∈</span></span><span class="dj bb">ℝ</span><span class="sp"><i>p</i></span></span></span><span class="ks"></span>Φ(<i>x</i>)<span class="rel">=</span><span class="fr"><span class="n">1</span><span class="d"><i>n</i></span></span><span class="lm sm"><span class="lu"><i>n</i></span><span class="lb"><span class="bigsum">∑</span></span><span class="ld"><i>i</i><span class="rel">=</span>1</span></span><i>f</i><span class="sb"><i>i</i></span><span class="ts"></span><span class="dl th" style="transform:scale(2.302,4.100);margin:0 0.170em">(</span><span class="fr"><span class="n">1</span><span class="d"><i>n</i></span></span><span class="lm sm"><span class="lu"><i>n</i></span><span class="lb"><span class="bigsum">∑</span></span><span class="ld"><i>j</i><span class="rel">=</span>1</span></span><i>g</i><span class="sb"><i>j</i></span>(<i>x</i>)<span class="dl th" style="transform:scale(2.302,4.100);margin:0 0.170em">)</span><span class="ts"></span>,<span class="ts"></span></span></div>
<div class="ln t" style="left:1714.5px;top:2652.4px;transform:scaleX(0.9579);">where <span class="m"><i>f</i><span class="sb"><i>i</i></span>(·)</span> and <span class="m"><i>g</i><span class="sb"><i>i</i></span>(·)</span> are non-convex.</div>
</section>
<section aria-label="Comparison">
<h2 class="ln hd" style="left:3838.2px;top:483.5px;transform:scaleX(0.9594);">Comparison</h2>
<div class="rl" style="left:3239px;top:546.5px;width:1440px;border-top-width:2px;border-color:#444"></div>
<div class="rl" style="left:3302px;top:571.2px;width:1305px;border-top-width:3px;border-color:#000"></div>
<div class="rl" style="left:3302px;top:631.8px;width:1305px;border-top-width:2.2px;border-color:#000"></div>
<div class="rl" style="left:3302px;top:782.1px;width:1305px;border-top-width:3px;border-color:#000"></div>
<div class="ln t bd" style="left:3349.8px;top:579.8px;transform:scaleX(1.0154);">Algorithm</div>
<div class="ln t bd" style="left:3560.7px;top:579.8px;transform:scaleX(0.9630);">Problem</div>
<div class="ln t bd" style="left:3797.5px;top:579.8px;transform:scaleX(1.0073);">Computation</div>
<div class="ln t bd" style="left:4122.9px;top:579.8px;transform:scaleX(0.9172);">Samples</div>
<div class="ln t bd" style="left:4283.4px;top:579.8px;transform:scaleX(0.9321);">Jacobian</div>
<div class="ln t bd" style="left:4432.8px;top:579.8px;transform:scaleX(1.0263);">Mini-batch</div>
<div class="ln t bd" style="left:3310.9px;top:641.9px;transform:scaleX(0.9731);">DSBO-JHIP [1]</div>
<div class="ln t" style="left:3558.1px;top:641.9px;transform:scaleX(0.9509);">G-DSBO</div>
<div class="ln t" style="left:3829.8px;top:640.9px;transform:scaleX(0.8999);"><span class="m"><span class="ac tilde tall"><i class="cal">O</i><span class="a">˜</span></span>(<i>p</i><i>q</i><i>ϵ</i><span class="sp"><span class="un">−</span>3</span>)</span></div>
<div class="ln t" style="left:4134.6px;top:640.9px;transform:scaleX(0.9288);"><span class="m"><span class="ac tilde tall"><i class="cal">O</i><span class="a">˜</span></span>(<i>ϵ</i><span class="sp"><span class="un">−</span>3</span>)</span></div>
<div class="ln t" style="left:4324.8px;top:641.9px;transform:scaleX(0.8370);">Yes</div>
<div class="ln t" style="left:4493.6px;top:641.9px;transform:scaleX(0.9698);">No</div>
<div class="ln t bd" style="left:3328.4px;top:686.6px;transform:scaleX(0.9748);">GBDSBO [2]</div>
<div class="ln t" style="left:3558.1px;top:686.6px;transform:scaleX(0.9509);">G-DSBO</div>
<div class="ln t" style="left:3708.8px;top:685.6px;transform:scaleX(0.9308);"><span class="m"><i class="cal">O</i>((<i>q</i><span class="sp">2</span><span class="fn">log</span>(<span class="fr tf"><span class="n">1</span><span class="d"><i>ϵ</i></span></span>)<span class="bin">+</span><i>p</i><i>q</i>)<i>n</i><span class="sp"><span class="un">−</span>1</span><i>ϵ</i><span class="sp"><span class="un">−</span>2</span>)</span></div>
<div class="ln t" style="left:4105.4px;top:685.6px;transform:scaleX(0.9544);"><span class="m"><span class="ac tilde tall"><i class="cal">O</i><span class="a">˜</span></span>(<i>n</i><span class="sp"><span class="un">−</span>1</span><i>ϵ</i><span class="sp"><span class="un">−</span>2</span>)</span></div>
<div class="ln t" style="left:4324.8px;top:686.6px;transform:scaleX(0.8370);">Yes</div>
<div class="ln t" style="left:4493.6px;top:686.6px;transform:scaleX(0.9698);">No</div>
<div class="ln t bd" style="left:3342.6px;top:730.6px;transform:scaleX(1.0064);">MA-DSBO</div>
<div class="ln t" style="left:3558.1px;top:730.6px;transform:scaleX(0.9509);">G-DSBO</div>
<div class="ln t" style="left:3774.2px;top:729.6px;transform:scaleX(0.9257);"><span class="m"><span class="ac tilde tall"><i class="cal">O</i><span class="a">˜</span></span>(<span class="fn">max</span>{<i>p</i>,<span class="ts"></span><i>q</i>}<i>ϵ</i><span class="sp"><span class="un">−</span>2</span>)</span></div>
<div class="ln t" style="left:4134.6px;top:729.6px;transform:scaleX(0.9288);"><span class="m"><span class="ac tilde tall"><i class="cal">O</i><span class="a">˜</span></span>(<i>ϵ</i><span class="sp"><span class="un">−</span>2</span>)</span></div>
<div class="ln t" style="left:4328.0px;top:730.6px;transform:scaleX(0.9542);">No</div>
<div class="ln t" style="left:4493.6px;top:730.6px;transform:scaleX(0.9698);">No</div>
<div class="bu" style="left:3249px;top:843px;width:9px;height:9px"></div>
<div class="ln t bd" style="left:3274.0px;top:826.0px;transform:scaleX(0.9667);">Per-iteration complexity: <span class="m"><i class="cal">O</i>(<i>p</i><i>q</i>)<span class="rel">→</span><i class="cal">O</i>(<span class="fn">max</span>{<i>p</i>,<span class="ts"></span><i>q</i>}).</span></div>
<div class="bu" style="left:3249px;top:893.4px;width:9px;height:9px"></div>
<div class="ln t bd" style="left:3274.0px;top:876.4px;transform:scaleX(0.9985);">Matching the lower bound in terms of <span class="m"><i>ϵ</i></span> up to log factors.</div>
<div class="bu" style="left:3249px;top:944.5px;width:9px;height:9px"></div>
<div class="ln t bd" style="left:3274.0px;top:928.5px;transform:scaleX(0.9782);">Milder assumptions, heterogeneous data, and no mini-batches needed.</div>
</section>
<section aria-label="Experiments">
<h2 class="ln hd" style="left:3834.3px;top:1033.5px;transform:scaleX(0.9678);">Experiments</h2>
<div class="rl" style="left:3239px;top:1096.5px;width:1440px;border-top-width:2px;border-color:#444"></div>
<svg class="ab" style="left:3290px;top:1130px" width="1340" height="640" viewBox="0 0 1340 640" font-family="DejaVu Sans, sans-serif" font-size="10" fill="#000"><rect x="58.5" y="10.1" width="374.1" height="236.3" fill="#fff"/><path d="M76.0 10.1V246.4M144.0 10.1V246.4M212.0 10.1V246.4M280.0 10.1V246.4M348.0 10.1V246.4M416.0 10.1V246.4M58.5 231.5H432.6M58.5 181.8H432.6M58.5 132.0H432.6M58.5 82.2H432.6M58.5 32.5H432.6" stroke="#b8b8b8" stroke-width="0.85" fill="none"/><clipPath id="c24579"><rect x="58.5" y="10.1" width="374.1" height="236.3"/></clipPath><g clip-path="url(#c24579)" fill="none" stroke-linejoin="round" stroke-linecap="butt"><polyline points="76.0,235.5 79.4,229.0 82.8,222.5 86.2,216.6 89.6,204.1 93.0,191.7 96.4,171.8 99.8,151.9 103.2,129.5 106.6,107.1 110.0,87.2 113.4,72.3 116.8,57.4 120.2,48.9 123.6,47.9 127.0,48.4 130.4,41.0 133.8,43.4 137.2,42.5 140.6,44.4 144.0,38.5 147.4,42.0 150.8,43.4 154.2,46.4 157.6,50.4 161.0,35.0 164.4,37.0 167.8,33.0 171.2,40.5 174.6,39.0 178.0,32.5 181.4,35.5 184.8,36.5 188.2,34.0 191.6,30.0 195.0,38.5 198.4,27.5 201.8,41.0 205.2,28.0 208.6,37.5 212.0,35.0 215.4,38.0 218.8,42.0 222.2,41.0 225.6,34.5 229.0,38.5 232.4,39.5 235.8,41.5 239.2,41.5 242.6,38.5 246.0,37.5 249.4,39.5 252.8,43.9 256.2,39.0 259.6,33.5 263.0,45.4 266.4,38.5 269.8,43.4 273.2,39.5 276.6,28.0 280.0,37.0 283.4,28.5 286.8,40.5 290.2,41.5 293.6,38.0 297.0,42.9 300.4,43.4 303.8,40.0 307.2,38.5 310.6,39.5 314.0,38.0 317.4,35.5 320.8,38.5 324.2,33.5 327.6,37.5 331.0,30.0 334.4,45.4 337.8,41.5 341.2,31.5 344.6,38.0 348.0,37.0 351.4,27.5 354.8,37.0 358.2,41.5 361.6,38.5 365.0,44.4 368.4,34.0 371.8,36.5 375.2,34.0 378.6,35.0 382.0,38.0 385.4,41.0 388.8,32.5 392.2,35.5 395.6,34.5 399.0,38.0 402.4,44.9 405.8,52.4 409.2,37.0 412.6,40.5 416.0,42.9" stroke="#1f77b4" stroke-width="1.50"/><polyline points="76.0,235.5 79.4,235.5 82.8,234.0 86.2,231.5 89.6,227.5 93.0,225.5 96.4,222.5 99.8,219.1 103.2,216.1 106.6,212.1 110.0,207.6 113.4,208.1 116.8,204.1 120.2,201.7 123.6,196.7 127.0,193.7 130.4,190.2 133.8,179.8 137.2,171.8 140.6,169.3 144.0,165.3 147.4,158.9 150.8,149.4 154.2,139.5 157.6,134.5 161.0,129.5 164.4,124.5 167.8,119.1 171.2,107.1 174.6,97.7 178.0,89.7 181.4,83.7 184.8,77.3 188.2,70.8 191.6,57.9 195.0,58.4 198.4,51.4 201.8,49.4 205.2,44.4 208.6,41.5 212.0,41.5 215.4,32.5 218.8,38.5 222.2,37.0 225.6,32.0 229.0,31.0 232.4,32.0 235.8,31.5 239.2,35.0 242.6,31.0 246.0,31.5 249.4,27.5 252.8,31.0 256.2,27.5 259.6,24.0 263.0,24.5 266.4,27.5 269.8,31.0 273.2,25.0 276.6,20.6 280.0,24.5 283.4,24.0 286.8,25.0 290.2,27.0 293.6,28.5 297.0,30.0 300.4,32.0 303.8,28.0 307.2,25.5 310.6,27.0 314.0,28.0 317.4,26.5 320.8,29.0 324.2,26.5 327.6,27.5 331.0,25.0 334.4,30.5 337.8,27.0 341.2,23.5 344.6,25.0 348.0,23.5 351.4,20.6 354.8,24.0 358.2,29.0 361.6,27.0 365.0,33.0 368.4,28.5 371.8,24.5 375.2,26.5 378.6,25.0 382.0,25.0 385.4,24.0 388.8,22.1 392.2,25.5 395.6,24.5 399.0,23.5 402.4,27.5 405.8,32.0 409.2,27.5 412.6,29.5 416.0,28.5" stroke="#ff7f0e" stroke-width="1.50"/></g><path d="M76.0 246.4v3.2M144.0 246.4v3.2M212.0 246.4v3.2M280.0 246.4v3.2M348.0 246.4v3.2M416.0 246.4v3.2M58.5 231.5h-3.2M58.5 181.8h-3.2M58.5 132.0h-3.2M58.5 82.2h-3.2M58.5 32.5h-3.2" stroke="#000" stroke-width="0.8" fill="none"/><rect x="58.5" y="10.1" width="374.1" height="236.3" fill="none" stroke="#000" stroke-width="0.9"/><text x="76.0" y="260.8" text-anchor="middle">0</text><text x="144.0" y="260.8" text-anchor="middle">20</text><text x="212.0" y="260.8" text-anchor="middle">40</text><text x="280.0" y="260.8" text-anchor="middle">60</text><text x="348.0" y="260.8" text-anchor="middle">80</text><text x="416.0" y="260.8" text-anchor="middle">100</text><text x="51.9" y="235.2" text-anchor="end">0.5</text><text x="51.9" y="185.4" text-anchor="end">0.6</text><text x="51.9" y="135.7" text-anchor="end">0.7</text><text x="51.9" y="86.0" text-anchor="end">0.8</text><text x="51.9" y="36.2" text-anchor="end">0.9</text><text x="245.6" y="273.7" text-anchor="middle">Iteration</text><text transform="translate(30.4 128.2) rotate(-90)" text-anchor="middle">Test Accuracy</text><rect x="255.3" y="206.4" width="172.4" height="34.7" rx="2" fill="#fff" fill-opacity="0.8" stroke="#ccc" stroke-width="0.8"/><path d="M258.5 214.7H279.2" stroke="#1f77b4" stroke-width="1.3"/><text x="286.8" y="218.3">Test Accuracy, <tspan font-style="italic">α</tspan> = <tspan font-style="italic">β</tspan> = 0.01</text><path d="M258.5 230.7H279.2" stroke="#ff7f0e" stroke-width="1.3"/><text x="286.8" y="234.3">Test Accuracy, <tspan font-style="italic">α</tspan> = <tspan font-style="italic">β</tspan> = 0.03</text><rect x="500.5" y="10.1" width="374.1" height="236.3" fill="#fff"/><path d="M517.4 10.1V246.4M573.6 10.1V246.4M629.7 10.1V246.4M685.9 10.1V246.4M742.1 10.1V246.4M798.2 10.1V246.4M854.4 10.1V246.4M500.5 223.6H874.6M500.5 172.8H874.6M500.5 122.0H874.6M500.5 71.2H874.6M500.5 20.4H874.6" stroke="#b8b8b8" stroke-width="0.85" fill="none"/><clipPath id="c27673"><rect x="500.5" y="10.1" width="374.1" height="236.3"/></clipPath><g clip-path="url(#c27673)" fill="none" stroke-linejoin="round" stroke-linecap="butt"><polyline points="517.4,235.1 518.8,228.4 520.1,221.8 521.5,215.1 522.9,208.8 524.2,200.1 525.6,192.6 527.0,183.4 528.3,174.1 529.7,164.9 531.1,154.7 532.4,145.8 533.8,135.4 535.2,126.6 536.5,117.6 537.9,108.9 539.3,101.0 540.6,92.0 542.0,83.1 543.4,73.4 544.7,67.1 546.1,62.4 547.5,58.4 548.8,57.1 550.2,54.4 551.6,52.8 552.9,51.3 554.3,53.2 555.7,56.8 557.0,56.5 558.4,56.0 559.8,57.5 561.1,59.7 562.5,58.2 563.9,58.0 565.2,59.4 566.6,61.7 568.0,62.5 569.3,63.5 570.7,63.8 572.1,64.5 573.4,65.5 574.8,65.6 576.2,66.0 577.5,65.7 578.9,65.5 580.3,64.8 581.6,64.1 583.0,64.0 584.4,62.1 585.7,61.6 587.1,60.6 588.5,59.2 589.8,58.9 591.2,58.4 592.6,56.3 593.9,53.7 595.3,52.6 596.7,50.4 598.0,50.4 599.4,48.4 600.8,47.1 602.2,46.8 603.5,44.4 604.9,43.3 606.3,41.6 607.6,41.6 609.0,40.8 610.4,40.1 611.7,39.1 613.1,40.1 614.5,39.4 615.8,39.2 617.2,39.2 618.6,40.7 619.9,41.7 621.3,41.3 622.7,40.5 624.0,40.8 625.4,39.6 626.8,38.1 628.1,36.3 629.5,37.1 630.9,36.5 632.2,38.0 633.6,38.2 635.0,38.4 636.3,38.5 637.7,39.7 639.1,39.4 640.4,40.0 641.8,39.9 643.2,39.6 644.5,39.1 645.9,38.4 647.3,37.4 648.6,35.9 650.0,35.2 651.4,36.6 652.7,37.2 654.1,36.5 655.5,37.4 656.8,38.0 658.2,38.6 659.6,38.5 660.9,36.7 662.3,35.7 663.7,36.3 665.0,37.2 666.4,36.6 667.8,36.8 669.1,35.3 670.5,34.4 671.9,35.8 673.2,35.7 674.6,36.1 676.0,36.1 677.3,35.4 678.7,35.8 680.1,35.6 681.4,36.4 682.8,36.1 684.2,37.3 685.5,37.6 686.9,37.5 688.3,38.2 689.6,38.5 691.0,39.0 692.4,38.7 693.7,38.1 695.1,38.1 696.5,38.1 697.8,37.6 699.2,37.5 700.6,36.8 701.9,35.6 703.3,35.3 704.7,35.2 706.0,34.8 707.4,34.1 708.8,33.6 710.1,33.3 711.5,33.5 712.9,34.2 714.2,33.8 715.6,32.3 717.0,35.5 718.3,37.7 719.7,36.9 721.1,36.0 722.4,36.9 723.8,37.2 725.2,38.4 726.5,38.1 727.9,37.6 729.3,37.6 730.6,37.9 732.0,37.0 733.4,37.3 734.7,37.2 736.1,37.8 737.5,36.8 738.8,36.8 740.2,35.9 741.6,35.8 742.9,35.0 744.3,34.9 745.7,34.3 747.0,34.5 748.4,33.7 749.8,33.1 751.1,33.6 752.5,36.2 753.9,36.6 755.2,36.4 756.6,36.3 758.0,35.7 759.3,35.4 760.7,35.1 762.1,34.3 763.5,34.0 764.8,32.5 766.2,31.6 767.6,33.0 768.9,33.6 770.3,34.3 771.7,34.2 773.0,34.8 774.4,33.9 775.8,34.0 777.1,33.4 778.5,33.2 779.9,32.5 781.2,31.8 782.6,32.7 784.0,33.5 785.3,35.2 786.7,34.5 788.1,33.7 789.4,34.2 790.8,35.5 792.2,35.7 793.5,35.7 794.9,35.9 796.3,34.9 797.6,35.2 799.0,35.9 800.4,36.3 801.7,35.8 803.1,34.7 804.5,33.4 805.8,32.4 807.2,31.7 808.6,33.3 809.9,34.5 811.3,36.0 812.7,37.4 814.0,36.2 815.4,36.9 816.8,36.1 818.1,36.0 819.5,36.6 820.9,37.6 822.2,36.9 823.6,36.1 825.0,35.1 826.3,33.1 827.7,32.4 829.1,32.1 830.4,33.0 831.8,33.4 833.2,33.5 834.5,34.2 835.9,35.2 837.3,34.6 838.6,34.6 840.0,34.8 841.4,34.7 842.7,33.6 844.1,33.1 845.5,32.7 846.8,32.8 848.2,33.4 849.6,32.7 850.9,30.0 852.3,29.3 853.7,27.4 855.0,26.9 856.4,28.9 857.8,31.5" stroke="#1f77b4" stroke-width="1.25"/><polyline points="517.4,235.5 519.1,235.5 520.8,235.8 522.5,235.4 524.2,234.9 525.9,234.9 527.6,234.4 529.3,233.3 531.0,233.4 532.7,233.0 534.4,232.0 536.1,232.0 537.8,231.4 539.5,231.6 541.2,231.4 542.9,231.7 544.6,231.2 546.3,230.6 548.0,230.3 549.7,229.5 551.4,228.9 553.1,228.8 554.8,227.7 556.5,227.3 558.2,227.1 559.9,226.8 561.7,225.7 563.4,225.5 565.1,224.8 566.8,224.2 568.5,223.9 570.2,223.2 571.9,223.2 573.6,222.3 575.3,222.0 577.0,221.0 578.7,220.4 580.4,220.4 582.1,219.8 583.8,219.1 585.5,217.9 587.2,217.7 588.9,216.9 590.6,216.6 592.3,215.8 594.0,215.3 595.7,214.7 597.4,213.8 599.1,213.2 600.8,212.2 602.5,211.7 604.2,210.9 605.9,210.2 607.6,209.5 609.3,209.0 611.0,208.8 612.7,207.5 614.4,206.8 616.1,206.1 617.8,205.7 619.5,204.9 621.2,204.7 622.9,203.5 624.6,203.0 626.3,202.5 628.0,201.9 629.7,200.5 631.4,199.6 633.1,199.5 634.8,198.2 636.5,197.7 638.2,197.2 639.9,196.3 641.6,195.0 643.3,193.9 645.0,193.6 646.7,192.1 648.4,191.5 650.2,189.9 651.9,189.2 653.6,187.8 655.3,186.7 657.0,186.0 658.7,184.5 660.4,183.9 662.1,183.0 663.8,181.4 665.5,180.7 667.2,179.4 668.9,178.1 670.6,177.0 672.3,176.6 674.0,175.8 675.7,174.3 677.4,173.9 679.1,172.5 680.8,171.8 682.5,171.6 684.2,170.9 685.9,170.2 687.6,169.0 689.3,167.9 691.0,166.8 692.7,165.7 694.4,164.3 696.1,163.9 697.8,163.3 699.5,162.3 701.2,162.0 702.9,161.2 704.6,160.3 706.3,160.3 708.0,159.9 709.7,159.9 711.4,159.2 713.1,158.7 714.8,158.5 716.5,157.1 718.2,156.2 719.9,155.7 721.6,154.3 723.3,153.5 725.0,152.4 726.7,151.9 728.4,150.9 730.1,150.1 731.8,149.9 733.5,149.1 735.2,147.8 736.9,146.8 738.7,146.6 740.4,145.7 742.1,144.8 743.8,144.1 745.5,143.2 747.2,142.4 748.9,141.5 750.6,140.4 752.3,139.8 754.0,138.9 755.7,137.7 757.4,137.4 759.1,136.1 760.8,135.4 762.5,135.1 764.2,134.5 765.9,133.5 767.6,133.3 769.3,132.7 771.0,131.8 772.7,130.6 774.4,130.2 776.1,129.2 777.8,128.6 779.5,127.7 781.2,127.5 782.9,126.7 784.6,126.8 786.3,126.5 788.0,126.1 789.7,125.8 791.4,125.2 793.1,124.5 794.8,123.7 796.5,121.9 798.2,120.5 799.9,118.3 801.6,116.9 803.3,116.7 805.0,115.8 806.7,114.6 808.4,114.0 810.1,113.2 811.8,112.8 813.5,112.3 815.2,111.4 816.9,110.4 818.6,110.2 820.3,109.6 822.0,108.9 823.7,108.3 825.5,107.7 827.2,106.3 828.9,105.7 830.6,104.6 832.3,102.6 834.0,101.4 835.7,100.1 837.4,99.3 839.1,97.8 840.8,96.7 842.5,96.1 844.2,94.5 845.9,93.3 847.6,92.8 849.3,92.3 851.0,91.9 852.7,91.5 854.4,91.4 856.1,91.4" stroke="#ff7f0e" stroke-width="1.40"/><polyline points="517.4,235.3 518.5,224.3 519.7,213.1 520.8,201.3 522.0,188.1 523.1,174.8 524.2,161.8 525.4,147.4 526.5,133.1 527.6,118.8 528.8,105.5 529.9,93.3 531.1,81.5 532.2,69.8 533.3,63.5 534.5,58.3 535.6,54.4 536.8,51.3 537.9,52.6 539.0,55.1 540.2,57.9 541.3,60.2 542.4,62.1 543.6,64.4 544.7,66.2 545.9,67.9 547.0,69.7 548.1,71.0 549.3,73.0 550.4,74.7 551.6,79.0 552.7,85.7 553.8,91.2 555.0,89.1 556.1,86.8 557.2,86.2 558.4,86.9 559.5,86.4 560.7,84.2 561.8,83.0 562.9,82.9 564.1,82.5 565.2,79.9 566.3,77.6 567.5,74.5 568.6,70.8 569.8,65.2 570.9,60.5 572.0,54.7 573.2,48.8 574.3,43.5 575.5,37.7 576.6,33.3 577.7,30.8 578.9,28.3 580.0,32.0 581.1,34.2 582.3,31.3 583.4,30.1 584.6,32.6 585.7,33.3 586.8,31.6 588.0,27.7 589.1,28.5 590.3,31.7 591.4,31.2 592.5,32.3 593.7,32.9 594.8,29.1 595.9,32.8 597.1,31.0 598.2,32.0 599.4,33.7 600.5,31.0 601.6,34.7 602.8,31.5 603.9,34.2 605.1,32.3 606.2,33.2 607.3,32.6 608.5,28.4 609.6,29.1 610.7,31.6 611.9,28.1 613.0,31.6 614.2,30.4 615.3,27.5 616.4,28.5 617.6,31.2 618.7,26.0 619.9,30.1 621.0,29.6 622.1,26.4 623.3,28.7 624.4,28.8 625.5,30.8 626.7,31.4 627.8,29.4 629.0,32.0 630.1,30.5 631.2,31.7 632.4,31.2 633.5,28.4 634.7,31.0 635.8,30.4 636.9,28.8 638.1,32.5 639.2,32.7 640.3,28.4 641.5,28.9 642.6,32.0 643.8,32.3 644.9,29.2 646.0,28.0 647.2,32.1 648.3,27.9 649.4,28.2 650.6,29.7 651.7,30.7 652.9,32.4 654.0,32.8 655.1,27.6 656.3,31.6 657.4,28.9 658.6,31.4 659.7,28.3 660.8,29.6 662.0,31.3 663.1,32.0 664.2,28.9 665.4,32.6 666.5,31.7 667.7,29.9 668.8,28.3 669.9,29.6 671.1,31.5 672.2,28.0 673.4,32.0 674.5,33.1 675.6,31.7 676.8,30.7 677.9,32.9 679.0,32.2 680.2,31.2 681.3,30.1 682.5,32.6 683.6,31.3 684.7,28.4 685.9,27.9 687.0,29.6 688.2,29.3 689.3,29.8 690.4,32.2 691.6,32.6 692.7,32.6 693.8,27.5 695.0,28.6 696.1,27.0 697.3,32.2 698.4,28.7 699.5,29.4 700.7,27.9 701.8,30.1 703.0,26.2 704.1,31.3 705.2,28.6 706.4,27.4 707.5,26.4 708.6,26.7 709.8,25.0 710.9,22.6 712.1,19.9 713.2,22.3 714.3,22.5 715.5,23.4 716.6,25.6 717.8,30.1 718.9,30.0 720.0,31.5 721.2,35.0 722.3,33.6 723.4,33.5 724.6,30.9 725.7,29.9 726.9,32.8 728.0,29.6 729.1,27.6 730.3,28.1 731.4,28.9 732.6,30.7 733.7,28.7 734.8,29.5 736.0,30.2 737.1,28.0 738.2,32.1 739.4,28.3 740.5,32.3 741.7,29.0 742.8,29.8 743.9,31.5 745.1,29.1 746.2,30.5 747.3,30.1 748.5,28.6 749.6,32.5 750.8,34.2 751.9,32.8 753.0,30.9 754.2,33.8 755.3,34.3 756.5,30.2 757.6,31.2 758.7,32.0 759.9,29.0 761.0,31.8 762.1,29.5 763.3,31.7 764.4,30.0 765.6,27.5 766.7,26.4 767.8,26.2 769.0,28.6 770.1,27.1 771.3,28.6 772.4,29.7 773.5,27.8 774.7,26.0 775.8,26.1 776.9,26.9 778.1,25.7 779.2,29.6 780.4,30.3 781.5,28.8 782.6,29.9 783.8,30.3 784.9,29.3 786.1,28.2 787.2,29.1 788.3,30.2 789.5,27.4 790.6,26.7 791.7,29.7 792.9,31.9 794.0,32.3 795.2,27.7 796.3,32.4 797.4,28.8 798.6,29.6 799.7,31.0 800.9,28.3 802.0,32.5 803.1,31.8 804.3,30.0 805.4,32.3 806.5,27.8 807.7,31.0 808.8,31.5 810.0,31.9 811.1,28.6 812.2,29.6 813.4,28.5 814.5,28.3 815.7,27.4 816.8,26.5 817.9,28.0 819.1,30.6 820.2,29.0 821.3,30.6 822.5,31.5 823.6,28.8 824.8,27.4 825.9,30.3 827.0,29.8 828.2,29.4 829.3,27.4 830.4,28.4 831.6,27.9 832.7,27.1 833.9,29.1 835.0,26.9 836.1,26.3 837.3,30.8 838.4,26.1 839.6,27.3 840.7,30.6 841.8,28.8 843.0,27.8 844.1,26.2 845.2,29.2 846.4,28.1 847.5,26.4 848.7,26.9 849.8,26.0 850.9,28.7 852.1,27.7 853.2,30.2 854.4,27.3 855.5,27.4 856.6,29.1 857.8,29.3" stroke="#2ca02c" stroke-width="1.25"/></g><path d="M517.4 246.4v3.2M573.6 246.4v3.2M629.7 246.4v3.2M685.9 246.4v3.2M742.1 246.4v3.2M798.2 246.4v3.2M854.4 246.4v3.2M500.5 223.6h-3.2M500.5 172.8h-3.2M500.5 122.0h-3.2M500.5 71.2h-3.2M500.5 20.4h-3.2" stroke="#000" stroke-width="0.8" fill="none"/><rect x="500.5" y="10.1" width="374.1" height="236.3" fill="none" stroke="#000" stroke-width="0.9"/><text x="517.4" y="260.8" text-anchor="middle">0</text><text x="573.6" y="260.8" text-anchor="middle">10</text><text x="629.7" y="260.8" text-anchor="middle">20</text><text x="685.9" y="260.8" text-anchor="middle">30</text><text x="742.1" y="260.8" text-anchor="middle">40</text><text x="798.2" y="260.8" text-anchor="middle">50</text><text x="854.4" y="260.8" text-anchor="middle">60</text><text x="493.9" y="227.3" text-anchor="end">0.5</text><text x="493.9" y="176.5" text-anchor="end">0.6</text><text x="493.9" y="125.7" text-anchor="end">0.7</text><text x="493.9" y="74.9" text-anchor="end">0.8</text><text x="493.9" y="24.1" text-anchor="end">0.9</text><text x="687.6" y="273.7" text-anchor="middle">Time</text><text transform="translate(471.6 128.2) rotate(-90)" text-anchor="middle">Accuracy</text><rect x="780.5" y="193.4" width="89.0" height="47.7" rx="2" fill="#fff" fill-opacity="0.8" stroke="#ccc" stroke-width="0.8"/><path d="M783.7 201.5H805.0" stroke="#1f77b4" stroke-width="1.3"/><text x="812.5" y="205.1">DSBO_JHIP</text><path d="M783.7 216.6H805.0" stroke="#ff7f0e" stroke-width="1.3"/><text x="812.5" y="220.2">GB_DSBO</text><path d="M783.7 231.7H805.0" stroke="#2ca02c" stroke-width="1.3"/><text x="812.5" y="235.3">MA_DSBO</text><rect x="941.6" y="10.1" width="373.9" height="236.3" fill="#fff"/><path d="M958.6 10.1V246.4M1013.0 10.1V246.4M1067.5 10.1V246.4M1121.9 10.1V246.4M1176.3 10.1V246.4M1230.8 10.1V246.4M1285.2 10.1V246.4M941.6 223.6H1315.5M941.6 172.8H1315.5M941.6 122.0H1315.5M941.6 71.2H1315.5M941.6 20.4H1315.5" stroke="#b8b8b8" stroke-width="0.85" fill="none"/><clipPath id="c30761"><rect x="941.6" y="10.1" width="373.9" height="236.3"/></clipPath><g clip-path="url(#c30761)" fill="none" stroke-linejoin="round" stroke-linecap="butt"><polyline points="958.6,235.4 960.3,233.8 961.9,233.0 963.6,231.5 965.2,230.5 966.9,229.2 968.6,227.6 970.2,226.7 971.9,225.0 973.6,223.5 975.2,221.7 976.9,219.2 978.5,216.8 980.2,214.0 981.9,211.9 983.5,209.1 985.2,206.5 986.8,203.6 988.5,200.8 990.2,197.9 991.8,195.5 993.5,192.9 995.2,190.2 996.8,187.1 998.5,184.5 1000.1,181.3 1001.8,178.4 1003.5,175.2 1005.1,172.4 1006.8,168.9 1008.5,165.7 1010.1,162.3 1011.8,158.8 1013.4,155.8 1015.1,153.1 1016.8,150.3 1018.4,146.9 1020.1,144.3 1021.7,141.6 1023.4,138.6 1025.1,136.1 1026.7,133.4 1028.4,130.7 1030.1,128.3 1031.7,125.5 1033.4,122.6 1035.0,120.2 1036.7,116.6 1038.4,113.7 1040.0,110.2 1041.7,106.9 1043.3,103.5 1045.0,100.3 1046.7,97.1 1048.3,93.9 1050.0,90.5 1051.7,86.9 1053.3,83.5 1055.0,80.3 1056.6,76.5 1058.3,74.1 1060.0,71.3 1061.6,68.9 1063.3,67.2 1065.0,65.8 1066.6,64.2 1068.3,62.7 1069.9,61.2 1071.6,59.7 1073.3,58.2 1074.9,57.8 1076.6,57.8 1078.2,57.3 1079.9,57.0 1081.6,56.4 1083.2,55.9 1084.9,55.6 1086.6,54.5 1088.2,54.0 1089.9,53.4 1091.5,52.2 1093.2,51.7 1094.9,51.0 1096.5,50.9 1098.2,51.5 1099.8,52.4 1101.5,53.4 1103.2,54.4 1104.8,55.3 1106.5,56.5 1108.2,57.6 1109.8,57.6 1111.5,57.4 1113.1,57.0 1114.8,56.9 1116.5,56.6 1118.1,56.6 1119.8,56.6 1121.4,57.0 1123.1,58.0 1124.8,58.5 1126.4,59.0 1128.1,59.4 1129.8,59.9 1131.4,59.7 1133.1,59.7 1134.7,59.1 1136.4,59.4 1138.1,58.7 1139.7,58.8 1141.4,58.5 1143.1,59.4 1144.7,59.5 1146.4,60.2 1148.0,60.6 1149.7,61.4 1151.4,62.2 1153.0,62.3 1154.7,63.1 1156.3,63.5 1158.0,63.5 1159.7,63.8 1161.3,64.0 1163.0,64.4 1164.7,64.7 1166.3,64.6 1168.0,64.7 1169.6,65.0 1171.3,64.9 1173.0,64.8 1174.6,64.9 1176.3,65.1 1177.9,65.2 1179.6,65.3 1181.3,65.5 1182.9,65.6 1184.6,65.5 1186.3,65.8 1187.9,65.5 1189.6,65.4 1191.2,65.3 1192.9,65.5 1194.6,65.2 1196.2,65.1 1197.9,65.2 1199.5,64.6 1201.2,64.6 1202.9,64.6 1204.5,64.3 1206.2,64.4 1207.9,64.1 1209.5,63.7 1211.2,63.3 1212.8,63.1 1214.5,63.2 1216.2,62.7 1217.8,62.2 1219.5,61.9 1221.2,61.5 1222.8,61.1 1224.5,61.1 1226.1,60.7 1227.8,60.2 1229.5,59.6 1231.1,59.6 1232.8,59.1 1234.4,59.1 1236.1,59.1 1237.8,58.9 1239.4,58.6 1241.1,58.6 1242.8,58.7 1244.4,58.3 1246.1,57.8 1247.7,56.9 1249.4,55.8 1251.1,55.1 1252.7,54.5 1254.4,53.7 1256.0,52.8 1257.7,51.9 1259.4,51.5 1261.0,51.0 1262.7,50.8 1264.4,50.3 1266.0,50.1 1267.7,49.9 1269.3,49.5 1271.0,49.1 1272.7,48.7 1274.3,48.2 1276.0,47.9 1277.7,47.5 1279.3,46.6 1281.0,46.3 1282.6,45.7 1284.3,45.3 1286.0,44.2 1287.6,43.7 1289.3,42.9" stroke="#1f77b4" stroke-width="1.25"/><polyline points="958.6,235.5 960.3,235.6 962.0,235.4 963.7,235.6 965.4,235.6 967.1,235.3 968.9,234.4 970.6,234.1 972.3,233.7 974.0,233.7 975.7,233.1 977.4,233.1 979.1,232.9 980.8,232.7 982.5,232.4 984.2,231.6 986.0,231.5 987.7,231.3 989.4,231.2 991.1,231.6 992.8,231.3 994.5,230.5 996.2,229.9 997.9,229.2 999.6,228.7 1001.3,228.8 1003.0,227.9 1004.8,227.5 1006.5,227.4 1008.2,227.3 1009.9,226.7 1011.6,226.7 1013.3,225.7 1015.0,225.4 1016.7,225.3 1018.4,225.1 1020.1,224.2 1021.9,224.1 1023.6,223.5 1025.3,223.1 1027.0,223.0 1028.7,222.5 1030.4,221.9 1032.1,221.5 1033.8,221.2 1035.5,220.6 1037.2,219.7 1039.0,219.8 1040.7,219.3 1042.4,218.4 1044.1,218.2 1045.8,217.5 1047.5,217.1 1049.2,216.8 1050.9,215.8 1052.6,216.0 1054.3,215.3 1056.0,215.1 1057.8,214.3 1059.5,214.1 1061.2,213.4 1062.9,212.4 1064.6,212.1 1066.3,211.3 1068.0,210.4 1069.7,210.6 1071.4,210.1 1073.1,209.4 1074.9,208.5 1076.6,208.1 1078.3,207.9 1080.0,207.3 1081.7,206.9 1083.4,206.3 1085.1,206.2 1086.8,205.2 1088.5,204.6 1090.2,204.1 1091.9,203.8 1093.7,203.2 1095.4,203.4 1097.1,202.6 1098.8,201.5 1100.5,201.1 1102.2,200.8 1103.9,199.8 1105.6,199.5 1107.3,198.8 1109.0,198.6 1110.8,198.0 1112.5,197.2 1114.2,196.8 1115.9,196.0 1117.6,194.9 1119.3,194.7 1121.0,194.4 1122.7,193.7 1124.4,193.0 1126.1,191.8 1127.8,191.5 1129.6,190.9 1131.3,190.3 1133.0,188.8 1134.7,188.5 1136.4,187.9 1138.1,187.2 1139.8,186.4 1141.5,185.6 1143.2,184.7 1144.9,184.7 1146.7,184.2 1148.4,182.9 1150.1,182.1 1151.8,180.6 1153.5,180.3 1155.2,179.2 1156.9,178.4 1158.6,178.2 1160.3,177.1 1162.0,177.0 1163.8,176.6 1165.5,175.9 1167.2,175.5 1168.9,174.5 1170.6,173.9 1172.3,172.7 1174.0,172.0 1175.7,171.5 1177.4,171.2 1179.1,170.4 1180.8,169.8 1182.6,169.1 1184.3,168.2 1186.0,166.9 1187.7,166.6 1189.4,165.8 1191.1,164.4 1192.8,164.2 1194.5,163.2 1196.2,163.1 1197.9,162.2 1199.7,161.8 1201.4,161.1 1203.1,160.6 1204.8,160.4 1206.5,160.4 1208.2,160.0 1209.9,159.1 1211.6,158.8 1213.3,158.4 1215.0,158.4 1216.7,157.4 1218.5,156.6 1220.2,156.0 1221.9,155.1 1223.6,154.6 1225.3,153.7 1227.0,153.0 1228.7,152.5 1230.4,151.3 1232.1,150.5 1233.8,150.5 1235.6,149.1 1237.3,148.4 1239.0,148.0 1240.7,147.8 1242.4,146.4 1244.1,146.3 1245.8,145.0 1247.5,144.7 1249.2,144.7 1250.9,144.0 1252.6,143.1 1254.4,142.6 1256.1,141.9 1257.8,141.2 1259.5,141.3 1261.2,140.9 1262.9,139.6 1264.6,139.7 1266.3,138.3 1268.0,138.2 1269.7,136.9 1271.5,136.2 1273.2,135.4 1274.9,134.9 1276.6,133.9 1278.3,133.8 1280.0,132.7 1281.7,132.2 1283.4,131.1 1285.1,130.4 1286.8,130.2 1288.6,129.7 1290.3,129.7 1292.0,129.2 1293.7,128.3 1295.4,128.0 1297.1,127.2 1298.8,127.0" stroke="#ff7f0e" stroke-width="1.40"/><polyline points="958.6,234.9 959.8,224.0 961.1,213.1 962.3,201.7 963.5,188.0 964.8,174.9 966.0,161.5 967.3,147.7 968.5,133.5 969.7,119.1 971.0,105.4 972.2,93.2 973.4,81.5 974.7,70.4 975.9,63.5 977.2,58.0 978.4,54.8 979.6,51.5 980.9,52.8 982.1,55.5 983.3,57.3 984.6,59.8 985.8,62.0 987.1,63.9 988.3,65.5 989.5,67.8 990.8,69.1 992.0,71.1 993.2,72.9 994.5,74.9 995.7,79.2 997.0,86.2 998.2,91.2 999.4,89.0 1000.7,86.7 1001.9,86.1 1003.1,87.2 1004.4,87.1 1005.6,84.8 1006.9,83.3 1008.1,82.5 1009.3,82.5 1010.6,80.1 1011.8,77.6 1013.0,75.1 1014.3,70.9 1015.5,65.5 1016.8,60.1 1018.0,55.3 1019.2,49.2 1020.5,43.3 1021.7,37.6 1022.9,33.4 1024.2,30.5 1025.3,30.8 1026.4,30.9 1027.5,30.3 1028.6,30.4 1029.7,28.9 1030.8,32.7 1032.0,31.5 1033.1,29.9 1034.2,31.9 1035.3,29.4 1036.4,33.2 1037.5,28.1 1038.7,32.7 1039.8,30.1 1040.9,31.8 1042.0,26.8 1043.1,27.9 1044.2,26.8 1045.4,28.2 1046.5,27.8 1047.6,30.6 1048.7,28.5 1049.8,30.3 1050.9,33.1 1052.1,30.0 1053.2,33.8 1054.3,34.7 1055.4,35.2 1056.5,32.8 1057.6,34.2 1058.8,29.9 1059.9,29.6 1061.0,33.6 1062.1,34.1 1063.2,31.5 1064.3,33.4 1065.5,30.9 1066.6,29.1 1067.7,31.9 1068.8,30.6 1069.9,27.6 1071.0,29.8 1072.2,30.1 1073.3,26.7 1074.4,26.8 1075.5,26.0 1076.6,26.8 1077.7,28.0 1078.9,27.0 1080.0,26.8 1081.1,28.5 1082.2,31.4 1083.3,31.7 1084.4,31.6 1085.6,30.2 1086.7,31.7 1087.8,31.6 1088.9,29.8 1090.0,33.7 1091.1,30.6 1092.3,32.1 1093.4,30.6 1094.5,28.9 1095.6,32.0 1096.7,27.9 1097.8,32.6 1099.0,29.8 1100.1,29.7 1101.2,31.3 1102.3,29.3 1103.4,30.4 1104.5,31.5 1105.7,31.1 1106.8,36.1 1107.9,35.0 1109.0,32.3 1110.1,34.9 1111.2,29.8 1112.4,32.5 1113.5,28.8 1114.6,31.4 1115.7,29.9 1116.8,30.1 1117.9,32.0 1119.1,28.6 1120.2,29.9 1121.3,28.7 1122.4,29.6 1123.5,29.5 1124.6,29.7 1125.7,31.0 1126.9,27.7 1128.0,32.3 1129.1,27.9 1130.2,28.0 1131.3,30.1 1132.4,28.6 1133.6,29.2 1134.7,29.6 1135.8,31.4 1136.9,31.3 1138.0,31.1 1139.1,31.4 1140.3,27.8 1141.4,31.3 1142.5,31.1 1143.6,30.9 1144.7,28.7 1145.8,30.7 1147.0,30.2 1148.1,31.7 1149.2,31.4 1150.3,32.2 1151.4,31.3 1152.5,30.8 1153.7,27.3 1154.8,29.1 1155.9,31.1 1157.0,28.9 1158.1,30.3 1159.2,26.7 1160.4,26.3 1161.5,22.9 1162.6,25.1 1163.7,20.7 1164.8,22.9 1165.9,20.6 1167.1,24.6 1168.2,29.9 1169.3,27.2 1170.4,31.0 1171.5,31.3 1172.6,33.3 1173.8,30.3 1174.9,34.7 1176.0,30.8 1177.1,32.4 1178.2,30.5 1179.3,32.4 1180.5,33.2 1181.6,28.3 1182.7,29.4 1183.8,31.8 1184.9,27.0 1186.0,27.4 1187.2,31.7 1188.3,32.8 1189.4,29.7 1190.5,32.5 1191.6,29.4 1192.7,31.1 1193.9,29.9 1195.0,30.9 1196.1,30.0 1197.2,29.6 1198.3,30.6 1199.4,30.4 1200.6,31.6 1201.7,32.5 1202.8,32.5 1203.9,28.0 1205.0,31.4 1206.1,29.9 1207.3,30.3 1208.4,28.3 1209.5,28.6 1210.6,26.5 1211.7,28.6 1212.8,28.8 1214.0,27.2 1215.1,26.8 1216.2,25.8 1217.3,29.3 1218.4,26.2 1219.5,25.7 1220.6,25.8 1221.8,30.6 1222.9,29.2 1224.0,27.1 1225.1,26.8 1226.2,31.3 1227.3,29.4 1228.5,27.6 1229.6,27.5 1230.7,28.8 1231.8,30.7 1232.9,29.7 1234.0,31.7 1235.2,30.3 1236.3,29.7 1237.4,27.6 1238.5,28.9 1239.6,30.0 1240.7,31.0 1241.9,30.6 1243.0,28.6 1244.1,29.9 1245.2,31.5 1246.3,27.9 1247.4,29.3 1248.6,27.1 1249.7,29.5 1250.8,29.0 1251.9,30.2 1253.0,29.2 1254.1,27.5 1255.3,27.1 1256.4,28.9 1257.5,30.2 1258.6,32.3 1259.7,28.0 1260.8,30.5 1262.0,30.6 1263.1,32.4 1264.2,32.6 1265.3,30.6 1266.4,27.4 1267.5,28.7 1268.7,28.9 1269.8,29.1 1270.9,31.3 1272.0,31.8 1273.1,29.4 1274.2,32.4 1275.4,29.4 1276.5,29.8 1277.6,29.7 1278.7,32.0 1279.8,32.3 1280.9,30.0 1282.1,31.8 1283.2,29.0 1284.3,30.8 1285.4,29.1 1286.5,28.3 1287.6,29.1 1288.8,29.5 1289.9,31.4 1291.0,30.5 1292.1,27.0 1293.2,30.9 1294.3,30.8 1295.5,29.6 1296.6,29.3 1297.7,27.9 1298.8,30.7" stroke="#2ca02c" stroke-width="1.25"/></g><path d="M958.6 246.4v3.2M1013.0 246.4v3.2M1067.5 246.4v3.2M1121.9 246.4v3.2M1176.3 246.4v3.2M1230.8 246.4v3.2M1285.2 246.4v3.2M941.6 223.6h-3.2M941.6 172.8h-3.2M941.6 122.0h-3.2M941.6 71.2h-3.2M941.6 20.4h-3.2" stroke="#000" stroke-width="0.8" fill="none"/><rect x="941.6" y="10.1" width="373.9" height="236.3" fill="none" stroke="#000" stroke-width="0.9"/><text x="958.6" y="260.8" text-anchor="middle">0.0</text><text x="1013.0" y="260.8" text-anchor="middle">0.2</text><text x="1067.5" y="260.8" text-anchor="middle">0.4</text><text x="1121.9" y="260.8" text-anchor="middle">0.6</text><text x="1176.3" y="260.8" text-anchor="middle">0.8</text><text x="1230.8" y="260.8" text-anchor="middle">1.0</text><text x="1285.2" y="260.8" text-anchor="middle">1.2</text><text x="935.0" y="227.3" text-anchor="end">0.5</text><text x="935.0" y="176.5" text-anchor="end">0.6</text><text x="935.0" y="125.7" text-anchor="end">0.7</text><text x="935.0" y="74.9" text-anchor="end">0.8</text><text x="935.0" y="24.1" text-anchor="end">0.9</text><text x="1128.6" y="273.7" text-anchor="middle">Communicated Blocks</text><text transform="translate(913.5 128.2) rotate(-90)" text-anchor="middle">Accuracy</text><rect x="1221.8" y="193.4" width="88.7" height="47.7" rx="2" fill="#fff" fill-opacity="0.8" stroke="#ccc" stroke-width="0.8"/><path d="M1225.0 201.5H1246.3" stroke="#1f77b4" stroke-width="1.3"/><text x="1253.8" y="205.1">DSBO_JHIP</text><path d="M1225.0 216.6H1246.3" stroke="#ff7f0e" stroke-width="1.3"/><text x="1253.8" y="220.2">GB_DSBO</text><path d="M1225.0 231.7H1246.3" stroke="#2ca02c" stroke-width="1.3"/><text x="1253.8" y="235.3">MA_DSBO</text><text x="1315.6" y="273.3" text-anchor="end">1e8</text><rect x="49.4" y="352.4" width="374.2" height="235.6" fill="#fff"/><path d="M66.4 352.4V588.0M123.1 352.4V588.0M179.7 352.4V588.0M236.4 352.4V588.0M293.1 352.4V588.0M349.7 352.4V588.0M406.4 352.4V588.0M49.4 577.3H423.6M49.4 530.1H423.6M49.4 482.9H423.6M49.4 435.8H423.6M49.4 388.6H423.6" stroke="#b8b8b8" stroke-width="0.85" fill="none"/><clipPath id="c24858"><rect x="49.4" y="352.4" width="374.2" height="235.6"/></clipPath><g clip-path="url(#c24858)" fill="none" stroke-linejoin="round" stroke-linecap="butt"><polyline points="66.4,577.3 77.7,433.4 89.1,406.3 100.4,396.9 111.7,391.2 123.1,387.4 134.4,385.1 145.7,383.2 157.1,381.5 168.4,380.1 179.7,378.7 191.1,377.7 202.4,376.8 213.7,376.1 225.1,375.4 236.4,374.9 247.7,374.2 259.1,374.0 270.4,373.5 281.7,373.3 293.1,372.8 304.4,372.6 315.7,372.3 327.1,372.1 338.4,371.9 349.7,371.9 361.1,371.6 372.4,371.4 383.7,371.4 395.1,371.1 406.4,371.1" stroke="#1f77b4" stroke-width="1.40"/><polyline points="66.4,577.3 77.7,435.8 89.1,405.1 100.4,395.7 111.7,389.8 123.1,386.7 134.4,384.4 145.7,382.5 157.1,380.8 168.4,379.6 179.7,378.2 191.1,377.3 202.4,376.6 213.7,375.9 225.1,375.2 236.4,374.4 247.7,374.0 259.1,373.7 270.4,373.3 281.7,372.8 293.1,372.6 304.4,372.1 315.7,371.9 327.1,371.6 338.4,371.4 349.7,371.1 361.1,370.9 372.4,370.9 383.7,370.7 395.1,370.7 406.4,370.7" stroke="#ff7f0e" stroke-width="1.50"/><polyline points="66.4,577.3 77.7,395.7 89.1,376.8 100.4,372.1 111.7,370.2 123.1,369.0 134.4,370.2 145.7,368.3 157.1,367.1 168.4,366.9 179.7,369.0 191.1,366.7 202.4,366.0 213.7,365.5 225.1,365.0 236.4,366.4 247.7,365.0 259.1,364.3 270.4,364.1 281.7,368.6 293.1,364.3 304.4,364.1 315.7,364.1 327.1,364.3 338.4,369.7 349.7,364.3 361.1,363.1 372.4,362.9 383.7,362.9 395.1,362.9 406.4,365.5" stroke="#2ca02c" stroke-width="1.40"/><polyline points="66.4,577.3 77.7,387.4 89.1,376.8 100.4,373.7 111.7,371.4 123.1,369.3 134.4,368.6 145.7,370.9 157.1,367.8 168.4,367.4 179.7,366.9 191.1,366.7 202.4,366.2 213.7,365.5 225.1,365.7 236.4,366.7 247.7,365.7 259.1,365.5 270.4,365.2 281.7,365.2 293.1,367.4 304.4,364.8 315.7,364.5 327.1,364.3 338.4,365.0 349.7,368.1 361.1,365.2 372.4,365.0 383.7,364.3 395.1,364.3 406.4,366.4" stroke="#d62728" stroke-width="1.50"/></g><path d="M66.4 588.0v3.2M123.1 588.0v3.2M179.7 588.0v3.2M236.4 588.0v3.2M293.1 588.0v3.2M349.7 588.0v3.2M406.4 588.0v3.2M49.4 577.3h-3.2M49.4 530.1h-3.2M49.4 482.9h-3.2M49.4 435.8h-3.2M49.4 388.6h-3.2" stroke="#000" stroke-width="0.8" fill="none"/><rect x="49.4" y="352.4" width="374.2" height="235.6" fill="none" stroke="#000" stroke-width="0.9"/><text x="66.4" y="602.4" text-anchor="middle">0</text><text x="123.1" y="602.4" text-anchor="middle">5</text><text x="179.7" y="602.4" text-anchor="middle">10</text><text x="236.4" y="602.4" text-anchor="middle">15</text><text x="293.1" y="602.4" text-anchor="middle">20</text><text x="349.7" y="602.4" text-anchor="middle">25</text><text x="406.4" y="602.4" text-anchor="middle">30</text><text x="42.8" y="581.0" text-anchor="end">0.0</text><text x="42.8" y="533.8" text-anchor="end">0.2</text><text x="42.8" y="486.6" text-anchor="end">0.4</text><text x="42.8" y="439.5" text-anchor="end">0.6</text><text x="42.8" y="392.3" text-anchor="end">0.8</text><text x="236.5" y="615.3" text-anchor="middle">Iteration</text><text transform="translate(20.6 470.2) rotate(-90)" text-anchor="middle">Test Accuracy</text><rect x="237.7" y="516.5" width="180.8" height="66.2" rx="2" fill="#fff" fill-opacity="0.8" stroke="#ccc" stroke-width="0.8"/><path d="M240.9 524.2H262.3" stroke="#1f77b4" stroke-width="1.3"/><text x="269.4" y="527.8">Test Accuracy, <tspan font-style="italic">α</tspan>=0.3, <tspan font-style="italic">β</tspan>=0.3</text><path d="M240.9 540.5H262.3" stroke="#ff7f0e" stroke-width="1.3"/><text x="269.4" y="544.1">Test Accuracy, <tspan font-style="italic">α</tspan>=0.9, <tspan font-style="italic">β</tspan>=0.3</text><path d="M240.9 556.3H262.3" stroke="#2ca02c" stroke-width="1.3"/><text x="269.4" y="559.9">Test Accuracy, <tspan font-style="italic">α</tspan>=0.3, <tspan font-style="italic">β</tspan>=0.9</text><path d="M240.9 572.5H262.3" stroke="#d62728" stroke-width="1.3"/><text x="269.4" y="576.1">Test Accuracy, <tspan font-style="italic">α</tspan>=0.9, <tspan font-style="italic">β</tspan>=0.9</text><rect x="497.3" y="352.4" width="377.3" height="235.6" fill="#fff"/><path d="M514.6 352.4V588.0M571.7 352.4V588.0M628.8 352.4V588.0M685.9 352.4V588.0M742.9 352.4V588.0M800.0 352.4V588.0M857.1 352.4V588.0M497.3 583.1H874.6M497.3 532.9H874.6M497.3 482.7H874.6M497.3 432.4H874.6M497.3 382.2H874.6" stroke="#b8b8b8" stroke-width="0.85" fill="none"/><clipPath id="c27993"><rect x="497.3" y="352.4" width="377.3" height="235.6"/></clipPath><g clip-path="url(#c27993)" fill="none" stroke-linejoin="round" stroke-linecap="butt"><polyline points="514.6,362.1 526.0,548.4 537.4,559.5 548.8,563.0 560.3,566.0 571.7,568.0 583.1,569.0 594.5,570.0 605.9,570.5 617.3,571.5 628.8,572.6 640.2,572.6 651.6,573.1 663.0,573.6 674.4,573.6 685.9,573.6 697.3,573.8 708.7,574.1 720.1,574.3 731.5,574.6 742.9,574.8 754.4,575.1 765.8,575.3 777.2,575.6 788.6,575.6 800.0,575.6 811.4,575.8 822.9,575.8 834.3,576.1 845.7,576.1 857.1,576.1" stroke="#1f77b4" stroke-width="1.40"/><polyline points="514.6,377.2 526.0,552.0 537.4,563.0 548.8,566.5 560.3,568.5 571.7,570.5 583.1,571.5 594.5,572.1 605.9,573.1 617.3,573.6 628.8,573.8 640.2,574.1 651.6,574.6 663.0,574.8 674.4,575.1 685.9,575.3 697.3,575.6 708.7,575.8 720.1,575.8 731.5,576.1 742.9,576.1 754.4,576.3 765.8,576.6 777.2,576.6 788.6,576.8 800.0,576.8 811.4,577.1 822.9,577.1 834.3,577.1 845.7,577.1 857.1,577.1" stroke="#ff7f0e" stroke-width="1.50"/><polyline points="514.6,382.2 526.0,558.0 537.4,566.0 548.8,568.5 560.3,570.5 571.7,572.1 583.1,572.1 594.5,571.5 605.9,573.1 617.3,573.6 628.8,573.1 640.2,573.1 651.6,573.6 663.0,574.6 674.4,574.6 685.9,574.3 697.3,574.6 708.7,575.1 720.1,575.3 731.5,573.8 742.9,574.1 754.4,575.1 765.8,575.6 777.2,575.8 788.6,573.8 800.0,574.1 811.4,575.3 822.9,576.1 834.3,576.1 845.7,576.6 857.1,575.6" stroke="#2ca02c" stroke-width="1.40"/><polyline points="514.6,397.3 526.0,562.0 537.4,566.5 548.8,569.0 560.3,570.0 571.7,571.5 583.1,573.1 594.5,571.0 605.9,572.1 617.3,573.3 628.8,574.1 640.2,573.3 651.6,574.1 663.0,574.6 674.4,574.6 685.9,574.1 697.3,573.8 708.7,574.8 720.1,575.6 731.5,575.3 742.9,573.6 754.4,574.6 765.8,575.6 777.2,575.8 788.6,576.1 800.0,574.3 811.4,574.6 822.9,575.6 834.3,576.1 845.7,576.1 857.1,574.8" stroke="#d62728" stroke-width="1.50"/></g><path d="M514.6 588.0v3.2M571.7 588.0v3.2M628.8 588.0v3.2M685.9 588.0v3.2M742.9 588.0v3.2M800.0 588.0v3.2M857.1 588.0v3.2M497.3 583.1h-3.2M497.3 532.9h-3.2M497.3 482.7h-3.2M497.3 432.4h-3.2M497.3 382.2h-3.2" stroke="#000" stroke-width="0.8" fill="none"/><rect x="497.3" y="352.4" width="377.3" height="235.6" fill="none" stroke="#000" stroke-width="0.9"/><text x="514.6" y="602.4" text-anchor="middle">0</text><text x="571.7" y="602.4" text-anchor="middle">5</text><text x="628.8" y="602.4" text-anchor="middle">10</text><text x="685.9" y="602.4" text-anchor="middle">15</text><text x="742.9" y="602.4" text-anchor="middle">20</text><text x="800.0" y="602.4" text-anchor="middle">25</text><text x="857.1" y="602.4" text-anchor="middle">30</text><text x="490.7" y="586.8" text-anchor="end">0</text><text x="490.7" y="536.6" text-anchor="end">10</text><text x="490.7" y="486.4" text-anchor="end">20</text><text x="490.7" y="436.1" text-anchor="end">30</text><text x="490.7" y="385.9" text-anchor="end">40</text><text x="686.0" y="615.3" text-anchor="middle">Iteration</text><text transform="translate(471.6 470.2) rotate(-90)" text-anchor="middle">Training Loss</text><rect x="692.5" y="357.3" width="177.0" height="66.4" rx="2" fill="#fff" fill-opacity="0.8" stroke="#ccc" stroke-width="0.8"/><path d="M695.4 365.2H717.0" stroke="#1f77b4" stroke-width="1.3"/><text x="724.2" y="368.8">Training Loss, <tspan font-style="italic">α</tspan>=0.3, <tspan font-style="italic">β</tspan>=0.3</text><path d="M695.4 381.4H717.0" stroke="#ff7f0e" stroke-width="1.3"/><text x="724.2" y="385.0">Training Loss, <tspan font-style="italic">α</tspan>=0.9, <tspan font-style="italic">β</tspan>=0.3</text><path d="M695.4 397.3H717.0" stroke="#2ca02c" stroke-width="1.3"/><text x="724.2" y="400.9">Training Loss, <tspan font-style="italic">α</tspan>=0.3, <tspan font-style="italic">β</tspan>=0.9</text><path d="M695.4 413.3H717.0" stroke="#d62728" stroke-width="1.3"/><text x="724.2" y="416.9">Training Loss, <tspan font-style="italic">α</tspan>=0.9, <tspan font-style="italic">β</tspan>=0.9</text><rect x="938.4" y="352.4" width="377.1" height="235.6" fill="#fff"/><path d="M955.6 352.4V588.0M1012.8 352.4V588.0M1069.9 352.4V588.0M1127.1 352.4V588.0M1184.3 352.4V588.0M1241.4 352.4V588.0M1298.6 352.4V588.0M938.4 582.7H1315.5M938.4 532.4H1315.5M938.4 482.1H1315.5M938.4 431.7H1315.5M938.4 381.4H1315.5" stroke="#b8b8b8" stroke-width="0.85" fill="none"/><clipPath id="c31081"><rect x="938.4" y="352.4" width="377.1" height="235.6"/></clipPath><g clip-path="url(#c31081)" fill="none" stroke-linejoin="round" stroke-linecap="butt"><polyline points="955.6,361.3 967.0,550.0 978.5,560.4 989.9,563.6 1001.3,566.4 1012.8,568.3 1024.2,569.2 1035.6,570.2 1047.1,570.6 1058.5,571.6 1069.9,572.5 1081.4,572.5 1092.8,573.0 1104.2,573.5 1115.7,573.5 1127.1,573.5 1138.5,573.7 1150.0,573.9 1161.4,574.2 1172.8,574.4 1184.3,574.6 1195.7,574.9 1207.1,575.1 1218.6,575.3 1230.0,575.3 1241.4,575.3 1252.9,575.6 1264.3,575.6 1275.7,575.8 1287.2,575.8 1298.6,575.8" stroke="#1f77b4" stroke-width="1.40"/><polyline points="955.6,376.4 967.0,553.5 978.5,563.6 989.9,566.9 1001.3,568.8 1012.8,570.6 1024.2,571.6 1035.6,572.1 1047.1,573.0 1058.5,573.5 1069.9,573.7 1081.4,573.9 1092.8,574.4 1104.2,574.6 1115.7,574.9 1127.1,575.1 1138.5,575.3 1150.0,575.6 1161.4,575.6 1172.8,575.8 1184.3,575.8 1195.7,576.0 1207.1,576.3 1218.6,576.3 1230.0,576.5 1241.4,576.5 1252.9,576.7 1264.3,576.7 1275.7,576.7 1287.2,576.7 1298.6,576.7" stroke="#ff7f0e" stroke-width="1.50"/><polyline points="955.6,381.4 967.0,560.1 978.5,566.4 989.9,568.8 1001.3,570.6 1012.8,572.1 1024.2,572.1 1035.6,571.6 1047.1,573.0 1058.5,573.5 1069.9,573.0 1081.4,573.0 1092.8,573.5 1104.2,574.4 1115.7,574.4 1127.1,574.2 1138.5,574.4 1150.0,574.9 1161.4,575.1 1172.8,573.7 1184.3,573.9 1195.7,574.9 1207.1,575.3 1218.6,575.6 1230.0,573.7 1241.4,573.9 1252.9,575.1 1264.3,575.8 1275.7,575.8 1287.2,576.3 1298.6,575.3" stroke="#2ca02c" stroke-width="1.40"/><polyline points="955.6,396.5 967.0,564.1 978.5,566.9 989.9,569.2 1001.3,570.2 1012.8,571.6 1024.2,573.0 1035.6,571.1 1047.1,572.1 1058.5,573.2 1069.9,573.9 1081.4,573.2 1092.8,573.9 1104.2,574.4 1115.7,574.4 1127.1,573.9 1138.5,573.7 1150.0,574.6 1161.4,575.3 1172.8,575.1 1184.3,573.5 1195.7,574.4 1207.1,575.3 1218.6,575.6 1230.0,575.8 1241.4,574.2 1252.9,574.4 1264.3,575.3 1275.7,575.8 1287.2,575.8 1298.6,574.6" stroke="#d62728" stroke-width="1.50"/></g><path d="M955.6 588.0v3.2M1012.8 588.0v3.2M1069.9 588.0v3.2M1127.1 588.0v3.2M1184.3 588.0v3.2M1241.4 588.0v3.2M1298.6 588.0v3.2M938.4 582.7h-3.2M938.4 532.4h-3.2M938.4 482.1h-3.2M938.4 431.7h-3.2M938.4 381.4h-3.2" stroke="#000" stroke-width="0.8" fill="none"/><rect x="938.4" y="352.4" width="377.1" height="235.6" fill="none" stroke="#000" stroke-width="0.9"/><text x="955.6" y="602.4" text-anchor="middle">0</text><text x="1012.8" y="602.4" text-anchor="middle">5</text><text x="1069.9" y="602.4" text-anchor="middle">10</text><text x="1127.1" y="602.4" text-anchor="middle">15</text><text x="1184.3" y="602.4" text-anchor="middle">20</text><text x="1241.4" y="602.4" text-anchor="middle">25</text><text x="1298.6" y="602.4" text-anchor="middle">30</text><text x="931.8" y="586.4" text-anchor="end">0</text><text x="931.8" y="536.1" text-anchor="end">10</text><text x="931.8" y="485.8" text-anchor="end">20</text><text x="931.8" y="435.4" text-anchor="end">30</text><text x="931.8" y="385.1" text-anchor="end">40</text><text x="1126.9" y="615.3" text-anchor="middle">Iteration</text><text transform="translate(913.6 470.2) rotate(-90)" text-anchor="middle">Test Loss</text><rect x="1153.7" y="357.3" width="156.8" height="66.4" rx="2" fill="#fff" fill-opacity="0.8" stroke="#ccc" stroke-width="0.8"/><path d="M1157.0 365.2H1178.0" stroke="#1f77b4" stroke-width="1.3"/><text x="1185.6" y="368.8">Test Loss, <tspan font-style="italic">α</tspan>=0.3, <tspan font-style="italic">β</tspan>=0.3</text><path d="M1157.0 381.4H1178.0" stroke="#ff7f0e" stroke-width="1.3"/><text x="1185.6" y="385.0">Test Loss, <tspan font-style="italic">α</tspan>=0.9, <tspan font-style="italic">β</tspan>=0.3</text><path d="M1157.0 397.3H1178.0" stroke="#2ca02c" stroke-width="1.3"/><text x="1185.6" y="400.9">Test Loss, <tspan font-style="italic">α</tspan>=0.3, <tspan font-style="italic">β</tspan>=0.9</text><path d="M1157.0 413.3H1178.0" stroke="#d62728" stroke-width="1.3"/><text x="1185.6" y="416.9">Test Loss, <tspan font-style="italic">α</tspan>=0.9, <tspan font-style="italic">β</tspan>=0.9</text></svg>
<div class="ln t cp" style="left:3497.1px;top:1435.8px;">(a)</div>
<div class="ln t cp" style="left:3939.0px;top:1435.8px;">(b)</div>
<div class="ln t cp" style="left:4381.0px;top:1435.8px;">(c)</div>
<div class="ln t cp" style="left:3492.6px;top:1778.0px;">(d)</div>
<div class="ln t cp" style="left:3939.0px;top:1778.0px;">(e)</div>
<div class="ln t cp" style="left:4383.6px;top:1778.0px;">(f)</div>
<div class="ln t cap" style="left:3507.0px;top:1830.3px;transform:scaleX(0.9648);"><span class="fg">Figure 1.</span> <span class="m"><i>ℓ</i><span class="sp">2</span></span>-regularized logistic regression on synthetic data and MNIST.</div>
</section>
<section aria-label="Takeaway and future directions">
<h2 class="ln hd" style="left:3646.7px;top:1927.3px;transform:scaleX(0.9783);">Takeaway and future directions</h2>
<div class="rl" style="left:3239px;top:1990.3px;width:1440px;border-top-width:2px;border-color:#444"></div>
<div class="bu" style="left:3235.5px;top:2029.9px;width:8px;height:8px"></div>
<div class="ln t" style="left:3259.3px;top:2013.9px;transform:scaleX(0.9529);"><span class="tt">HIGP</span> makes solving a decentralized linear system and global hypergradient</div>
<div class="ln t" style="left:3259.3px;top:2055.3px;transform:scaleX(0.9647);">estimation applicable.</div>
<div class="bu" style="left:3235.5px;top:2121.8px;width:8px;height:8px"></div>
<div class="ln t" style="left:3259.3px;top:2105.8px;transform:scaleX(0.9680);"><b>Moving average</b> helps reduce the order of bias in DSBO.</div>
<div class="bu" style="left:3235.5px;top:2172.9px;width:8px;height:8px"></div>
<div class="ln t" style="left:3259.3px;top:2155.9px;transform:scaleX(0.9752);">Removing <b>gradient heterogeneity</b> (<span class="m"><i>δ</i><span class="rel">=</span>∞</span>) via gradient tracking?</div>
<div class="bu" style="left:3235.5px;top:2224px;width:8px;height:8px"></div>
<div class="ln t" style="left:3259.3px;top:2208.0px;transform:scaleX(0.9725);">Achieving <b>linear speedup</b> under the same per-iteration complexity?</div>
<svg class="ab" style="left:4427px;top:2040.1px" width="193.4" height="193.4" viewBox="0 0 29 29" shape-rendering="crispEdges"><rect width="29" height="29" fill="#fff"/><path d="M0 0h7v1h-7zM9 0h3v1h-3zM13 0h3v1h-3zM19 0h1v1h-1zM22 0h7v1h-7zM0 1h1v1h-1zM6 1h1v1h-1zM10 1h9v1h-9zM20 1h1v1h-1zM22 1h1v1h-1zM28 1h1v1h-1zM0 2h1v1h-1zM2 2h3v1h-3zM6 2h1v1h-1zM8 2h6v1h-6zM15 2h1v1h-1zM18 2h3v1h-3zM22 2h1v1h-1zM24 2h3v1h-3zM28 2h1v1h-1zM0 3h1v1h-1zM2 3h3v1h-3zM6 3h1v1h-1zM8 3h2v1h-2zM11 3h1v1h-1zM14 3h2v1h-2zM17 3h3v1h-3zM22 3h1v1h-1zM24 3h3v1h-3zM28 3h1v1h-1zM0 4h1v1h-1zM2 4h3v1h-3zM6 4h1v1h-1zM8 4h3v1h-3zM12 4h1v1h-1zM15 4h2v1h-2zM19 4h1v1h-1zM22 4h1v1h-1zM24 4h3v1h-3zM28 4h1v1h-1zM0 5h1v1h-1zM6 5h1v1h-1zM8 5h1v1h-1zM11 5h2v1h-2zM17 5h2v1h-2zM20 5h1v1h-1zM22 5h1v1h-1zM28 5h1v1h-1zM0 6h7v1h-7zM8 6h1v1h-1zM10 6h1v1h-1zM12 6h1v1h-1zM14 6h1v1h-1zM16 6h1v1h-1zM18 6h1v1h-1zM20 6h1v1h-1zM22 6h7v1h-7zM8 7h1v1h-1zM10 7h1v1h-1zM14 7h1v1h-1zM16 7h1v1h-1zM18 7h2v1h-2zM0 8h1v1h-1zM2 8h5v1h-5zM9 8h2v1h-2zM16 8h3v1h-3zM20 8h1v1h-1zM22 8h5v1h-5zM0 9h3v1h-3zM4 9h1v1h-1zM8 9h1v1h-1zM10 9h1v1h-1zM13 9h3v1h-3zM19 9h2v1h-2zM22 9h3v1h-3zM28 9h1v1h-1zM2 10h1v1h-1zM4 10h1v1h-1zM6 10h1v1h-1zM8 10h2v1h-2zM11 10h1v1h-1zM13 10h4v1h-4zM18 10h1v1h-1zM23 10h2v1h-2zM0 11h2v1h-2zM4 11h2v1h-2zM8 11h3v1h-3zM12 11h2v1h-2zM15 11h1v1h-1zM19 11h1v1h-1zM21 11h2v1h-2zM25 11h1v1h-1zM27 11h1v1h-1zM2 12h3v1h-3zM6 12h1v1h-1zM8 12h1v1h-1zM12 12h1v1h-1zM14 12h2v1h-2zM17 12h2v1h-2zM21 12h1v1h-1zM25 12h2v1h-2zM0 13h1v1h-1zM3 13h3v1h-3zM8 13h2v1h-2zM11 13h2v1h-2zM15 13h2v1h-2zM19 13h6v1h-6zM28 13h1v1h-1zM0 14h1v1h-1zM5 14h2v1h-2zM11 14h1v1h-1zM18 14h1v1h-1zM20 14h1v1h-1zM22 14h1v1h-1zM24 14h3v1h-3zM0 15h1v1h-1zM2 15h2v1h-2zM9 15h1v1h-1zM12 15h1v1h-1zM14 15h1v1h-1zM16 15h1v1h-1zM18 15h1v1h-1zM21 15h2v1h-2zM27 15h1v1h-1zM0 16h1v1h-1zM4 16h1v1h-1zM6 16h1v1h-1zM17 16h2v1h-2zM23 16h1v1h-1zM25 16h2v1h-2zM0 17h2v1h-2zM3 17h1v1h-1zM7 17h3v1h-3zM13 17h3v1h-3zM17 17h8v1h-8zM26 17h1v1h-1zM28 17h1v1h-1zM0 18h1v1h-1zM2 18h5v1h-5zM10 18h8v1h-8zM20 18h1v1h-1zM22 18h1v1h-1zM26 18h1v1h-1zM0 19h1v1h-1zM2 19h1v1h-1zM9 19h5v1h-5zM15 19h1v1h-1zM18 19h3v1h-3zM22 19h1v1h-1zM24 19h1v1h-1zM27 19h1v1h-1zM0 20h1v1h-1zM4 20h1v1h-1zM6 20h1v1h-1zM8 20h1v1h-1zM14 20h1v1h-1zM16 20h9v1h-9zM26 20h3v1h-3zM8 21h2v1h-2zM11 21h2v1h-2zM20 21h1v1h-1zM24 21h5v1h-5zM0 22h7v1h-7zM12 22h1v1h-1zM15 22h2v1h-2zM18 22h3v1h-3zM22 22h1v1h-1zM24 22h3v1h-3zM0 23h1v1h-1zM6 23h1v1h-1zM8 23h2v1h-2zM12 23h1v1h-1zM14 23h1v1h-1zM20 23h1v1h-1zM24 23h1v1h-1zM27 23h1v1h-1zM0 24h1v1h-1zM2 24h3v1h-3zM6 24h1v1h-1zM8 24h1v1h-1zM11 24h1v1h-1zM15 24h4v1h-4zM20 24h5v1h-5zM26 24h2v1h-2zM0 25h1v1h-1zM2 25h3v1h-3zM6 25h1v1h-1zM8 25h3v1h-3zM14 25h1v1h-1zM19 25h2v1h-2zM23 25h1v1h-1zM25 25h4v1h-4zM0 26h1v1h-1zM2 26h3v1h-3zM6 26h1v1h-1zM8 26h1v1h-1zM10 26h1v1h-1zM14 26h2v1h-2zM17 26h3v1h-3zM22 26h6v1h-6zM0 27h1v1h-1zM6 27h1v1h-1zM11 27h1v1h-1zM13 27h1v1h-1zM15 27h1v1h-1zM18 27h1v1h-1zM20 27h2v1h-2zM23 27h3v1h-3zM27 27h1v1h-1zM0 28h7v1h-7zM8 28h3v1h-3zM12 28h1v1h-1zM14 28h1v1h-1zM16 28h4v1h-4zM21 28h2v1h-2zM24 28h1v1h-1zM26 28h1v1h-1z" fill="#000"/></svg>
</section>
<section aria-label="References">
<h2 class="ln hd" style="left:3847.3px;top:2294.8px;transform:scaleX(0.9682);">References</h2>
<div class="rl" style="left:3239px;top:2357.8px;width:1440px;border-top-width:2px;border-color:#444"></div>
<div class="ln t rf" style="left:3239.8px;top:2419.6px;transform:scaleX(1.0109);">[1]</div>
<div class="ln t rf" style="left:3283.8px;top:2419.6px;transform:scaleX(0.9597);">Xuxing Chen, Minhui Huang, and Shiqian Ma.</div>
<div class="ln t rf" style="left:3283.8px;top:2450.6px;transform:scaleX(0.9784);">Decentralized bilevel optimization.</div>
<div class="ln t rf" style="left:3283.8px;top:2481.7px;transform:scaleX(0.9591);"><em>arXiv preprint arXiv:2206.05670</em>, 2022.</div>
<div class="ln t rf" style="left:3239.8px;top:2523.8px;transform:scaleX(1.0109);">[2]</div>
<div class="ln t rf" style="left:3283.8px;top:2523.8px;transform:scaleX(0.9474);">Shuoguang Yang, Xuezhou Zhang, and Mengdi Wang.</div>
<div class="ln t rf" style="left:3283.8px;top:2554.8px;transform:scaleX(0.9753);">Decentralized gossip-based stochastic bilevel optimization over communication networks.</div>
<div class="ln t rf" style="left:3283.8px;top:2585.9px;transform:scaleX(0.9088);">In <em>Advances in Neural Information Processing Systems</em>, 2022.</div>
</section>
</main>
<footer>
<div class="ab" style="left:0;top:2795px;width:4799px;height:85px;background:#062858"></div>
<div class="ln ft" style="left:2321.0px;top:2813.5px;transform:scaleX(0.9498);">ICML 2023</div>
</footer>
</div>
</body></html>
